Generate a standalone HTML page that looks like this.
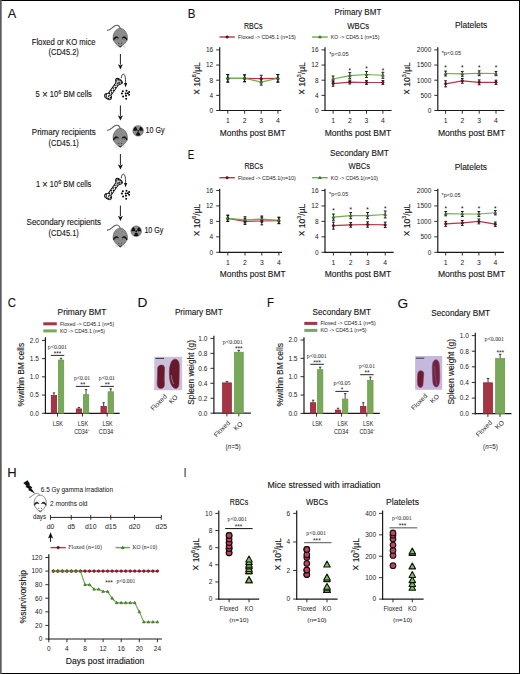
<!DOCTYPE html>
<html><head><meta charset="utf-8"><style>
html,body{margin:0;padding:0;background:#fff;}
svg{display:block;font-family:"Liberation Sans", sans-serif;}
text{stroke:none;}
text.b{stroke:#222;stroke-width:0.12px;}
</style></head><body>
<svg width="520" height="674" viewBox="0 0 520 674">
<rect x="0.00" y="0.00" width="520.00" height="674.00" fill="#fff" />
<rect x="0.00" y="0.00" width="520.00" height="1.00" fill="#000" />
<rect x="519.00" y="0.00" width="1.00" height="674.00" fill="#000" />
<rect x="0.00" y="673.00" width="520.00" height="1.00" fill="#000" />
<rect x="0.00" y="0.00" width="1.70" height="674.00" fill="#5c5c5c" />
<text class="b" x="7.70" y="17.70" font-size="11.87" textLength="8.50" lengthAdjust="spacingAndGlyphs" fill="#111" >A</text>
<text class="b" x="187.70" y="17.70" font-size="11.87" textLength="7.70" lengthAdjust="spacingAndGlyphs" fill="#111" >B</text>
<text class="b" x="187.70" y="158.50" font-size="12.15" textLength="6.50" lengthAdjust="spacingAndGlyphs" fill="#111" >E</text>
<text class="b" x="7.70" y="306.80" font-size="11.87" textLength="8.20" lengthAdjust="spacingAndGlyphs" fill="#111" >C</text>
<text class="b" x="137.40" y="307.00" font-size="12.29" textLength="9.90" lengthAdjust="spacingAndGlyphs" fill="#111" >D</text>
<text class="b" x="267.10" y="307.00" font-size="12.29" textLength="7.00" lengthAdjust="spacingAndGlyphs" fill="#111" >F</text>
<text class="b" x="397.60" y="307.80" font-size="12.29" textLength="10.60" lengthAdjust="spacingAndGlyphs" fill="#111" >G</text>
<text class="b" x="7.30" y="477.30" font-size="12.01" textLength="9.40" lengthAdjust="spacingAndGlyphs" fill="#111" >H</text>
<text class="b" x="183.80" y="477.30" font-size="13.13" textLength="2.60" lengthAdjust="spacingAndGlyphs" fill="#111" >I</text>
<text class="b" x="31.70" y="45.20" font-size="8.4" textLength="63.90" lengthAdjust="spacingAndGlyphs" fill="#111" >Floxed or KO mice</text>
<text class="b" x="48.50" y="54.90" font-size="8.4" textLength="30.30" lengthAdjust="spacingAndGlyphs" fill="#111" >(CD45.2)</text>
<text class="b" x="35.60" y="96.90" font-size="8.4" textLength="56.30" lengthAdjust="spacingAndGlyphs" fill="#111" >5 <tspan font-size="11" dy="0.9">×</tspan><tspan dy="-0.9"> 10</tspan><tspan font-size="6.2" dy="-3.3">6</tspan><tspan dy="3.3"> BM cells</tspan></text>
<text class="b" x="31.80" y="134.70" font-size="8.4" textLength="64.00" lengthAdjust="spacingAndGlyphs" fill="#111" >Primary recipients</text>
<text class="b" x="48.60" y="145.60" font-size="8.4" textLength="30.20" lengthAdjust="spacingAndGlyphs" fill="#111" >(CD45.1)</text>
<text class="b" x="35.90" y="186.80" font-size="8.4" textLength="55.40" lengthAdjust="spacingAndGlyphs" fill="#111" >1 <tspan font-size="11" dy="0.9">×</tspan><tspan dy="-0.9"> 10</tspan><tspan font-size="6.2" dy="-3.3">6</tspan><tspan dy="3.3"> BM cells</tspan></text>
<text class="b" x="26.60" y="225.00" font-size="8.4" textLength="74.40" lengthAdjust="spacingAndGlyphs" fill="#111" >Secondary recipients</text>
<text class="b" x="48.60" y="235.50" font-size="8.4" textLength="30.20" lengthAdjust="spacingAndGlyphs" fill="#111" >(CD45.1)</text>
<g transform="translate(0,0)">
<path d="M107.4 30.3 C109.8 30.6 112.3 27.2 115.0 25.7 C117.3 24.5 119.3 25.6 120.4 28.6" fill="none" stroke="#5a5a5a" stroke-width="1.1" stroke-linecap="round"/>
<path d="M120.2 28.4 C124.4 28.4 127.4 33.0 127.4 37.8 C127.4 41.8 123.6 44.8 120.2 47.4 C116.8 44.8 113.1 41.8 113.1 37.8 C113.1 33.0 116.0 28.4 120.2 28.4 Z" fill="#8c8c8c" stroke="#484848" stroke-width="0.6" />
<path d="M113.5 40.2 C113.4 37.0 116.8 35.4 118.6 38.2 C117.0 37.2 114.8 37.8 113.5 40.2 Z" fill="#111" stroke="#111" stroke-width="0.7" />
<path d="M127.0 40.2 C127.1 37.0 123.7 35.4 121.9 38.2 C123.5 37.2 125.7 37.8 127.0 40.2 Z" fill="#111" stroke="#111" stroke-width="0.7" />
<path d="M115.2 40.2 C116.5 38.8 118.8 39.0 119.6 40.6 M125.3 40.2 C124.0 38.8 121.7 39.0 120.9 40.6" fill="none" stroke="#707070" stroke-width="0.5" />
<circle cx="118.80" cy="43.40" r="0.55" fill="#3a3a3a" stroke="none" stroke-width="0.5"/>
<circle cx="121.60" cy="43.40" r="0.55" fill="#3a3a3a" stroke="none" stroke-width="0.5"/>
<path d="M118.6 45.8 Q120.2 47.6 121.8 45.8" fill="none" stroke="#222" stroke-width="0.9" />
<path d="M115.0 45.2 L117.6 46.4 M115.2 47.4 L117.6 46.8 M125.4 45.2 L122.8 46.4 M125.2 47.4 L122.8 46.8" fill="none" stroke="#c8c8c8" stroke-width="0.6" />
</g>
<g transform="translate(0,100)">
<path d="M107.4 30.3 C109.8 30.6 112.3 27.2 115.0 25.7 C117.3 24.5 119.3 25.6 120.4 28.6" fill="none" stroke="#5a5a5a" stroke-width="1.1" stroke-linecap="round"/>
<path d="M120.2 28.4 C124.4 28.4 127.4 33.0 127.4 37.8 C127.4 41.8 123.6 44.8 120.2 47.4 C116.8 44.8 113.1 41.8 113.1 37.8 C113.1 33.0 116.0 28.4 120.2 28.4 Z" fill="#8c8c8c" stroke="#484848" stroke-width="0.6" />
<path d="M113.5 40.2 C113.4 37.0 116.8 35.4 118.6 38.2 C117.0 37.2 114.8 37.8 113.5 40.2 Z" fill="#111" stroke="#111" stroke-width="0.7" />
<path d="M127.0 40.2 C127.1 37.0 123.7 35.4 121.9 38.2 C123.5 37.2 125.7 37.8 127.0 40.2 Z" fill="#111" stroke="#111" stroke-width="0.7" />
<path d="M115.2 40.2 C116.5 38.8 118.8 39.0 119.6 40.6 M125.3 40.2 C124.0 38.8 121.7 39.0 120.9 40.6" fill="none" stroke="#707070" stroke-width="0.5" />
<circle cx="118.80" cy="43.40" r="0.55" fill="#3a3a3a" stroke="none" stroke-width="0.5"/>
<circle cx="121.60" cy="43.40" r="0.55" fill="#3a3a3a" stroke="none" stroke-width="0.5"/>
<path d="M118.6 45.8 Q120.2 47.6 121.8 45.8" fill="none" stroke="#222" stroke-width="0.9" />
<path d="M115.0 45.2 L117.6 46.4 M115.2 47.4 L117.6 46.8 M125.4 45.2 L122.8 46.4 M125.2 47.4 L122.8 46.8" fill="none" stroke="#c8c8c8" stroke-width="0.6" />
</g>
<g transform="translate(0,199.8)">
<path d="M107.4 30.3 C109.8 30.6 112.3 27.2 115.0 25.7 C117.3 24.5 119.3 25.6 120.4 28.6" fill="none" stroke="#5a5a5a" stroke-width="1.1" stroke-linecap="round"/>
<path d="M120.2 28.4 C124.4 28.4 127.4 33.0 127.4 37.8 C127.4 41.8 123.6 44.8 120.2 47.4 C116.8 44.8 113.1 41.8 113.1 37.8 C113.1 33.0 116.0 28.4 120.2 28.4 Z" fill="#8c8c8c" stroke="#484848" stroke-width="0.6" />
<path d="M113.5 40.2 C113.4 37.0 116.8 35.4 118.6 38.2 C117.0 37.2 114.8 37.8 113.5 40.2 Z" fill="#111" stroke="#111" stroke-width="0.7" />
<path d="M127.0 40.2 C127.1 37.0 123.7 35.4 121.9 38.2 C123.5 37.2 125.7 37.8 127.0 40.2 Z" fill="#111" stroke="#111" stroke-width="0.7" />
<path d="M115.2 40.2 C116.5 38.8 118.8 39.0 119.6 40.6 M125.3 40.2 C124.0 38.8 121.7 39.0 120.9 40.6" fill="none" stroke="#707070" stroke-width="0.5" />
<circle cx="118.80" cy="43.40" r="0.55" fill="#3a3a3a" stroke="none" stroke-width="0.5"/>
<circle cx="121.60" cy="43.40" r="0.55" fill="#3a3a3a" stroke="none" stroke-width="0.5"/>
<path d="M118.6 45.8 Q120.2 47.6 121.8 45.8" fill="none" stroke="#222" stroke-width="0.9" />
<path d="M115.0 45.2 L117.6 46.4 M115.2 47.4 L117.6 46.8 M125.4 45.2 L122.8 46.4 M125.2 47.4 L122.8 46.8" fill="none" stroke="#c8c8c8" stroke-width="0.6" />
</g>
<line x1="120.40" y1="54.00" x2="120.40" y2="64.70" stroke="#111" stroke-width="0.95" />
<path d="M117.90 64.20 L120.40 65.40 L122.90 64.20 L120.40 69.40 Z" fill="#111" stroke="none" stroke-width="1" />
<line x1="120.40" y1="105.40" x2="120.40" y2="115.90" stroke="#111" stroke-width="0.95" />
<path d="M117.90 115.40 L120.40 116.60 L122.90 115.40 L120.40 120.60 Z" fill="#111" stroke="none" stroke-width="1" />
<line x1="120.40" y1="154.00" x2="120.40" y2="164.90" stroke="#111" stroke-width="0.95" />
<path d="M117.90 164.40 L120.40 165.60 L122.90 164.40 L120.40 169.60 Z" fill="#111" stroke="none" stroke-width="1" />
<line x1="120.40" y1="205.60" x2="120.40" y2="216.20" stroke="#111" stroke-width="0.95" />
<path d="M117.90 215.70 L120.40 216.90 L122.90 215.70 L120.40 220.90 Z" fill="#111" stroke="none" stroke-width="1" />
<g transform="translate(0,0)">
<g transform="translate(113.9,88.4) rotate(-54.6)">
<path d="M-7.6 -1.7 L5.6 -1.7 C6.6 -2.2 7.4 -3.8 9.0 -3.8 C11.4 -3.8 11.6 3.8 9.0 3.8 C7.4 3.8 6.6 2.2 5.6 1.7 L-7.6 1.7 C-8.0 3.6 -10.0 4.3 -11.4 3.4 C-12.6 2.6 -12.6 0.4 -12.0 0 C-12.6 -0.4 -12.6 -2.6 -11.4 -3.4 C-10.0 -4.3 -8.0 -3.6 -7.6 -1.7 Z" fill="#fff" stroke="#111" stroke-width="0.95" />
<circle cx="-10.80" cy="-1.80" r="0.78" fill="#111" stroke="none" stroke-width="0.5"/>
<circle cx="-11.20" cy="1.60" r="0.78" fill="#111" stroke="none" stroke-width="0.5"/>
<circle cx="-9.30" cy="0.20" r="0.78" fill="#111" stroke="none" stroke-width="0.5"/>
<circle cx="-9.60" cy="-2.60" r="0.78" fill="#111" stroke="none" stroke-width="0.5"/>
<circle cx="-9.40" cy="2.60" r="0.78" fill="#111" stroke="none" stroke-width="0.5"/>
<circle cx="-6.60" cy="-0.70" r="0.78" fill="#111" stroke="none" stroke-width="0.5"/>
<circle cx="-5.00" cy="0.70" r="0.78" fill="#111" stroke="none" stroke-width="0.5"/>
<circle cx="-3.40" cy="-0.70" r="0.78" fill="#111" stroke="none" stroke-width="0.5"/>
<circle cx="-1.80" cy="0.70" r="0.78" fill="#111" stroke="none" stroke-width="0.5"/>
<circle cx="-0.20" cy="-0.70" r="0.78" fill="#111" stroke="none" stroke-width="0.5"/>
<circle cx="1.40" cy="0.70" r="0.78" fill="#111" stroke="none" stroke-width="0.5"/>
<circle cx="3.00" cy="-0.70" r="0.78" fill="#111" stroke="none" stroke-width="0.5"/>
<circle cx="4.60" cy="0.70" r="0.78" fill="#111" stroke="none" stroke-width="0.5"/>
<circle cx="6.20" cy="-0.30" r="0.78" fill="#111" stroke="none" stroke-width="0.5"/>
<circle cx="7.80" cy="-2.00" r="0.78" fill="#111" stroke="none" stroke-width="0.5"/>
<circle cx="8.00" cy="1.60" r="0.78" fill="#111" stroke="none" stroke-width="0.5"/>
<circle cx="9.20" cy="-0.20" r="0.78" fill="#111" stroke="none" stroke-width="0.5"/>
<circle cx="9.60" cy="2.60" r="0.78" fill="#111" stroke="none" stroke-width="0.5"/>
<circle cx="9.40" cy="-2.80" r="0.78" fill="#111" stroke="none" stroke-width="0.5"/>
<circle cx="7.20" cy="0.80" r="0.78" fill="#111" stroke="none" stroke-width="0.5"/>
<circle cx="-7.80" cy="0.60" r="0.78" fill="#111" stroke="none" stroke-width="0.5"/>
<circle cx="-12.00" cy="-0.20" r="0.78" fill="#111" stroke="none" stroke-width="0.5"/>
<circle cx="10.40" cy="1.20" r="0.78" fill="#111" stroke="none" stroke-width="0.5"/>
<circle cx="10.20" cy="-1.40" r="0.78" fill="#111" stroke="none" stroke-width="0.5"/>
</g>
<path d="M121.3 78.2 C121.4 75.0 122.5 74.2 123.5 74.2 C124.9 74.2 125.6 77.2 125.6 83.4" fill="none" stroke="#111" stroke-width="0.8" />
<path d="M124.0 83.0 L127.2 83.0 L125.6 87.4 Z" fill="#111" stroke="none" stroke-width="1" />
<circle cx="122.80" cy="91.30" r="1.00" fill="#000" stroke="none" stroke-width="0.5"/>
<circle cx="126.50" cy="90.80" r="1.00" fill="#000" stroke="none" stroke-width="0.5"/>
<circle cx="129.10" cy="91.90" r="1.00" fill="#000" stroke="none" stroke-width="0.5"/>
<circle cx="121.90" cy="93.60" r="1.00" fill="#000" stroke="none" stroke-width="0.5"/>
<circle cx="125.70" cy="93.40" r="1.00" fill="#000" stroke="none" stroke-width="0.5"/>
<circle cx="129.10" cy="94.80" r="1.00" fill="#000" stroke="none" stroke-width="0.5"/>
<circle cx="123.10" cy="96.50" r="1.00" fill="#000" stroke="none" stroke-width="0.5"/>
<circle cx="126.00" cy="95.70" r="1.00" fill="#000" stroke="none" stroke-width="0.5"/>
<circle cx="126.20" cy="98.70" r="1.00" fill="#000" stroke="none" stroke-width="0.5"/>
<circle cx="127.80" cy="93.20" r="1.00" fill="#000" stroke="none" stroke-width="0.5"/>
</g>
<g transform="translate(0,100)">
<g transform="translate(113.9,88.4) rotate(-54.6)">
<path d="M-7.6 -1.7 L5.6 -1.7 C6.6 -2.2 7.4 -3.8 9.0 -3.8 C11.4 -3.8 11.6 3.8 9.0 3.8 C7.4 3.8 6.6 2.2 5.6 1.7 L-7.6 1.7 C-8.0 3.6 -10.0 4.3 -11.4 3.4 C-12.6 2.6 -12.6 0.4 -12.0 0 C-12.6 -0.4 -12.6 -2.6 -11.4 -3.4 C-10.0 -4.3 -8.0 -3.6 -7.6 -1.7 Z" fill="#fff" stroke="#111" stroke-width="0.95" />
<circle cx="-10.80" cy="-1.80" r="0.78" fill="#111" stroke="none" stroke-width="0.5"/>
<circle cx="-11.20" cy="1.60" r="0.78" fill="#111" stroke="none" stroke-width="0.5"/>
<circle cx="-9.30" cy="0.20" r="0.78" fill="#111" stroke="none" stroke-width="0.5"/>
<circle cx="-9.60" cy="-2.60" r="0.78" fill="#111" stroke="none" stroke-width="0.5"/>
<circle cx="-9.40" cy="2.60" r="0.78" fill="#111" stroke="none" stroke-width="0.5"/>
<circle cx="-6.60" cy="-0.70" r="0.78" fill="#111" stroke="none" stroke-width="0.5"/>
<circle cx="-5.00" cy="0.70" r="0.78" fill="#111" stroke="none" stroke-width="0.5"/>
<circle cx="-3.40" cy="-0.70" r="0.78" fill="#111" stroke="none" stroke-width="0.5"/>
<circle cx="-1.80" cy="0.70" r="0.78" fill="#111" stroke="none" stroke-width="0.5"/>
<circle cx="-0.20" cy="-0.70" r="0.78" fill="#111" stroke="none" stroke-width="0.5"/>
<circle cx="1.40" cy="0.70" r="0.78" fill="#111" stroke="none" stroke-width="0.5"/>
<circle cx="3.00" cy="-0.70" r="0.78" fill="#111" stroke="none" stroke-width="0.5"/>
<circle cx="4.60" cy="0.70" r="0.78" fill="#111" stroke="none" stroke-width="0.5"/>
<circle cx="6.20" cy="-0.30" r="0.78" fill="#111" stroke="none" stroke-width="0.5"/>
<circle cx="7.80" cy="-2.00" r="0.78" fill="#111" stroke="none" stroke-width="0.5"/>
<circle cx="8.00" cy="1.60" r="0.78" fill="#111" stroke="none" stroke-width="0.5"/>
<circle cx="9.20" cy="-0.20" r="0.78" fill="#111" stroke="none" stroke-width="0.5"/>
<circle cx="9.60" cy="2.60" r="0.78" fill="#111" stroke="none" stroke-width="0.5"/>
<circle cx="9.40" cy="-2.80" r="0.78" fill="#111" stroke="none" stroke-width="0.5"/>
<circle cx="7.20" cy="0.80" r="0.78" fill="#111" stroke="none" stroke-width="0.5"/>
<circle cx="-7.80" cy="0.60" r="0.78" fill="#111" stroke="none" stroke-width="0.5"/>
<circle cx="-12.00" cy="-0.20" r="0.78" fill="#111" stroke="none" stroke-width="0.5"/>
<circle cx="10.40" cy="1.20" r="0.78" fill="#111" stroke="none" stroke-width="0.5"/>
<circle cx="10.20" cy="-1.40" r="0.78" fill="#111" stroke="none" stroke-width="0.5"/>
</g>
<path d="M121.3 78.2 C121.4 75.0 122.5 74.2 123.5 74.2 C124.9 74.2 125.6 77.2 125.6 83.4" fill="none" stroke="#111" stroke-width="0.8" />
<path d="M124.0 83.0 L127.2 83.0 L125.6 87.4 Z" fill="#111" stroke="none" stroke-width="1" />
<circle cx="122.80" cy="91.30" r="1.00" fill="#000" stroke="none" stroke-width="0.5"/>
<circle cx="126.50" cy="90.80" r="1.00" fill="#000" stroke="none" stroke-width="0.5"/>
<circle cx="129.10" cy="91.90" r="1.00" fill="#000" stroke="none" stroke-width="0.5"/>
<circle cx="121.90" cy="93.60" r="1.00" fill="#000" stroke="none" stroke-width="0.5"/>
<circle cx="125.70" cy="93.40" r="1.00" fill="#000" stroke="none" stroke-width="0.5"/>
<circle cx="129.10" cy="94.80" r="1.00" fill="#000" stroke="none" stroke-width="0.5"/>
<circle cx="123.10" cy="96.50" r="1.00" fill="#000" stroke="none" stroke-width="0.5"/>
<circle cx="126.00" cy="95.70" r="1.00" fill="#000" stroke="none" stroke-width="0.5"/>
<circle cx="126.20" cy="98.70" r="1.00" fill="#000" stroke="none" stroke-width="0.5"/>
<circle cx="127.80" cy="93.20" r="1.00" fill="#000" stroke="none" stroke-width="0.5"/>
</g>
<circle cx="138.15" cy="130.80" r="5.40" fill="#8a8a8a" stroke="#555" stroke-width="0.4"/>
<path d="M138.90 129.50 L140.60 126.56 A4.9 4.9 0 0 1 143.05 130.80 L139.65 130.80 A1.5 1.5 0 0 0 138.90 129.50 Z" fill="#111" stroke="none" stroke-width="1" />
<path d="M138.90 132.10 L140.60 135.04 A4.9 4.9 0 0 1 135.70 135.04 L137.40 132.10 A1.5 1.5 0 0 0 138.90 132.10 Z" fill="#111" stroke="none" stroke-width="1" />
<path d="M136.65 130.80 L133.25 130.80 A4.9 4.9 0 0 1 135.70 126.56 L137.40 129.50 A1.5 1.5 0 0 0 136.65 130.80 Z" fill="#111" stroke="none" stroke-width="1" />
<circle cx="138.15" cy="130.80" r="0.90" fill="#111" stroke="none" stroke-width="0.5"/>
<circle cx="136.20" cy="231.20" r="5.40" fill="#8a8a8a" stroke="#555" stroke-width="0.4"/>
<path d="M136.95 229.90 L138.65 226.96 A4.9 4.9 0 0 1 141.10 231.20 L137.70 231.20 A1.5 1.5 0 0 0 136.95 229.90 Z" fill="#111" stroke="none" stroke-width="1" />
<path d="M136.95 232.50 L138.65 235.44 A4.9 4.9 0 0 1 133.75 235.44 L135.45 232.50 A1.5 1.5 0 0 0 136.95 232.50 Z" fill="#111" stroke="none" stroke-width="1" />
<path d="M134.70 231.20 L131.30 231.20 A4.9 4.9 0 0 1 133.75 226.96 L135.45 229.90 A1.5 1.5 0 0 0 134.70 231.20 Z" fill="#111" stroke="none" stroke-width="1" />
<circle cx="136.20" cy="231.20" r="0.90" fill="#111" stroke="none" stroke-width="0.5"/>
<text class="b" x="145.60" y="132.60" font-size="8.4" textLength="19.00" lengthAdjust="spacingAndGlyphs" fill="#111" >10 Gy</text>
<text class="b" x="144.40" y="233.00" font-size="8.4" textLength="19.00" lengthAdjust="spacingAndGlyphs" fill="#111" >10 Gy</text>
<text class="b" x="334.40" y="15.30" font-size="9.4" textLength="46.90" lengthAdjust="spacingAndGlyphs" fill="#111" >Primary BMT</text>
<text class="b" x="244.00" y="28.60" font-size="9.4" textLength="18.50" lengthAdjust="spacingAndGlyphs" fill="#111" >RBCs</text>
<text class="b" x="347.30" y="28.60" font-size="9.4" textLength="21.90" lengthAdjust="spacingAndGlyphs" fill="#111" >WBCs</text>
<text class="b" x="455.00" y="27.70" font-size="9.4" textLength="32.30" lengthAdjust="spacingAndGlyphs" fill="#111" >Platelets</text>
<line x1="219.40" y1="37.00" x2="234.80" y2="37.00" stroke="#b8344c" stroke-width="1.4" />
<circle cx="227.10" cy="37.00" r="1.30" fill="#7a1020" stroke="#300" stroke-width="0.4"/>
<text x="238.10" y="38.80" font-size="5.0" textLength="57.70" lengthAdjust="spacingAndGlyphs" fill="#222" >Floxed -&gt; CD45.1 (n=15)</text>
<line x1="312.10" y1="37.00" x2="327.80" y2="37.00" stroke="#6cae48" stroke-width="1.4" />
<path d="M319.95 35.44 L321.45 38.04 L318.45 38.04 Z" fill="#4e8a2e" stroke="#1d3a10" stroke-width="0.4" stroke-linejoin="round"/>
<text x="330.80" y="38.80" font-size="5.0" textLength="48.60" lengthAdjust="spacingAndGlyphs" fill="#222" >KO -&gt; CD45.1 (n=15)</text>
<line x1="219.70" y1="47.30" x2="219.70" y2="111.10" stroke="#1a1a1a" stroke-width="1.2" />
<line x1="219.10" y1="110.50" x2="281.40" y2="110.50" stroke="#1a1a1a" stroke-width="1.2" />
<line x1="216.20" y1="110.50" x2="219.70" y2="110.50" stroke="#1a1a1a" stroke-width="0.9" />
<text x="213.20" y="112.84" font-size="6.5" text-anchor="end" fill="#222" >0</text>
<line x1="216.20" y1="95.35" x2="219.70" y2="95.35" stroke="#1a1a1a" stroke-width="0.9" />
<text x="213.20" y="97.69" font-size="6.5" text-anchor="end" fill="#222" >4</text>
<line x1="216.20" y1="80.20" x2="219.70" y2="80.20" stroke="#1a1a1a" stroke-width="0.9" />
<text x="213.20" y="82.54" font-size="6.5" text-anchor="end" fill="#222" >8</text>
<line x1="216.20" y1="65.05" x2="219.70" y2="65.05" stroke="#1a1a1a" stroke-width="0.9" />
<text x="213.20" y="67.39" font-size="6.5" text-anchor="end" fill="#222" >12</text>
<line x1="216.20" y1="49.90" x2="219.70" y2="49.90" stroke="#1a1a1a" stroke-width="0.9" />
<text x="213.20" y="52.24" font-size="6.5" text-anchor="end" fill="#222" >16</text>
<line x1="227.80" y1="110.50" x2="227.80" y2="113.70" stroke="#1a1a1a" stroke-width="0.9" />
<line x1="244.60" y1="110.50" x2="244.60" y2="113.70" stroke="#1a1a1a" stroke-width="0.9" />
<line x1="261.20" y1="110.50" x2="261.20" y2="113.70" stroke="#1a1a1a" stroke-width="0.9" />
<line x1="277.90" y1="110.50" x2="277.90" y2="113.70" stroke="#1a1a1a" stroke-width="0.9" />
<text x="227.80" y="122.90" font-size="6.8" text-anchor="middle" fill="#222" >1</text>
<text x="244.60" y="122.90" font-size="6.8" text-anchor="middle" fill="#222" >2</text>
<text x="261.20" y="122.90" font-size="6.8" text-anchor="middle" fill="#222" >3</text>
<text x="277.90" y="122.90" font-size="6.8" text-anchor="middle" fill="#222" >4</text>
<line x1="227.80" y1="74.52" x2="227.80" y2="82.09" stroke="#111" stroke-width="0.95" />
<line x1="226.40" y1="74.52" x2="229.20" y2="74.52" stroke="#111" stroke-width="0.95" />
<line x1="226.40" y1="82.09" x2="229.20" y2="82.09" stroke="#111" stroke-width="0.95" />
<line x1="227.80" y1="74.52" x2="227.80" y2="82.09" stroke="#111" stroke-width="0.95" />
<line x1="226.40" y1="74.52" x2="229.20" y2="74.52" stroke="#111" stroke-width="0.95" />
<line x1="226.40" y1="82.09" x2="229.20" y2="82.09" stroke="#111" stroke-width="0.95" />
<line x1="244.60" y1="74.90" x2="244.60" y2="81.72" stroke="#111" stroke-width="0.95" />
<line x1="243.20" y1="74.90" x2="246.00" y2="74.90" stroke="#111" stroke-width="0.95" />
<line x1="243.20" y1="81.72" x2="246.00" y2="81.72" stroke="#111" stroke-width="0.95" />
<line x1="244.60" y1="74.90" x2="244.60" y2="81.72" stroke="#111" stroke-width="0.95" />
<line x1="243.20" y1="74.90" x2="246.00" y2="74.90" stroke="#111" stroke-width="0.95" />
<line x1="243.20" y1="81.72" x2="246.00" y2="81.72" stroke="#111" stroke-width="0.95" />
<line x1="261.20" y1="75.28" x2="261.20" y2="82.09" stroke="#111" stroke-width="0.95" />
<line x1="259.80" y1="75.28" x2="262.60" y2="75.28" stroke="#111" stroke-width="0.95" />
<line x1="259.80" y1="82.09" x2="262.60" y2="82.09" stroke="#111" stroke-width="0.95" />
<line x1="261.20" y1="79.06" x2="261.20" y2="85.12" stroke="#111" stroke-width="0.95" />
<line x1="259.80" y1="79.06" x2="262.60" y2="79.06" stroke="#111" stroke-width="0.95" />
<line x1="259.80" y1="85.12" x2="262.60" y2="85.12" stroke="#111" stroke-width="0.95" />
<line x1="277.90" y1="74.52" x2="277.90" y2="82.09" stroke="#111" stroke-width="0.95" />
<line x1="276.50" y1="74.52" x2="279.30" y2="74.52" stroke="#111" stroke-width="0.95" />
<line x1="276.50" y1="82.09" x2="279.30" y2="82.09" stroke="#111" stroke-width="0.95" />
<line x1="277.90" y1="74.52" x2="277.90" y2="82.09" stroke="#111" stroke-width="0.95" />
<line x1="276.50" y1="74.52" x2="279.30" y2="74.52" stroke="#111" stroke-width="0.95" />
<line x1="276.50" y1="82.09" x2="279.30" y2="82.09" stroke="#111" stroke-width="0.95" />
<polyline points="227.80,78.31 244.60,78.31 261.20,78.69 277.90,78.31" fill="none" stroke="#b8344c" stroke-width="1.15"/>
<polyline points="227.80,78.31 244.60,78.31 261.20,82.09 277.90,78.31" fill="none" stroke="#6cae48" stroke-width="1.15"/>
<circle cx="227.80" cy="78.31" r="1.25" fill="#7a1020" stroke="#300" stroke-width="0.4"/>
<circle cx="244.60" cy="78.31" r="1.25" fill="#7a1020" stroke="#300" stroke-width="0.4"/>
<circle cx="261.20" cy="78.69" r="1.25" fill="#7a1020" stroke="#300" stroke-width="0.4"/>
<circle cx="277.90" cy="78.31" r="1.25" fill="#7a1020" stroke="#300" stroke-width="0.4"/>
<path d="M227.80 76.75 L229.30 79.35 L226.30 79.35 Z" fill="#4e8a2e" stroke="#1d3a10" stroke-width="0.4" stroke-linejoin="round"/>
<path d="M244.60 76.75 L246.10 79.35 L243.10 79.35 Z" fill="#4e8a2e" stroke="#1d3a10" stroke-width="0.4" stroke-linejoin="round"/>
<path d="M261.20 80.53 L262.70 83.13 L259.70 83.13 Z" fill="#4e8a2e" stroke="#1d3a10" stroke-width="0.4" stroke-linejoin="round"/>
<path d="M277.90 76.75 L279.40 79.35 L276.40 79.35 Z" fill="#4e8a2e" stroke="#1d3a10" stroke-width="0.4" stroke-linejoin="round"/>
<line x1="325.00" y1="47.30" x2="325.00" y2="111.10" stroke="#1a1a1a" stroke-width="1.2" />
<line x1="324.40" y1="110.50" x2="391.60" y2="110.50" stroke="#1a1a1a" stroke-width="1.2" />
<line x1="321.50" y1="110.50" x2="325.00" y2="110.50" stroke="#1a1a1a" stroke-width="0.9" />
<text x="318.50" y="112.84" font-size="6.5" text-anchor="end" fill="#222" >0</text>
<line x1="321.50" y1="95.35" x2="325.00" y2="95.35" stroke="#1a1a1a" stroke-width="0.9" />
<text x="318.50" y="97.69" font-size="6.5" text-anchor="end" fill="#222" >4</text>
<line x1="321.50" y1="80.20" x2="325.00" y2="80.20" stroke="#1a1a1a" stroke-width="0.9" />
<text x="318.50" y="82.54" font-size="6.5" text-anchor="end" fill="#222" >8</text>
<line x1="321.50" y1="65.05" x2="325.00" y2="65.05" stroke="#1a1a1a" stroke-width="0.9" />
<text x="318.50" y="67.39" font-size="6.5" text-anchor="end" fill="#222" >12</text>
<line x1="321.50" y1="49.90" x2="325.00" y2="49.90" stroke="#1a1a1a" stroke-width="0.9" />
<text x="318.50" y="52.24" font-size="6.5" text-anchor="end" fill="#222" >16</text>
<line x1="333.10" y1="110.50" x2="333.10" y2="113.70" stroke="#1a1a1a" stroke-width="0.9" />
<line x1="349.80" y1="110.50" x2="349.80" y2="113.70" stroke="#1a1a1a" stroke-width="0.9" />
<line x1="366.50" y1="110.50" x2="366.50" y2="113.70" stroke="#1a1a1a" stroke-width="0.9" />
<line x1="382.90" y1="110.50" x2="382.90" y2="113.70" stroke="#1a1a1a" stroke-width="0.9" />
<text x="333.10" y="122.90" font-size="6.8" text-anchor="middle" fill="#222" >1</text>
<text x="349.80" y="122.90" font-size="6.8" text-anchor="middle" fill="#222" >2</text>
<text x="366.50" y="122.90" font-size="6.8" text-anchor="middle" fill="#222" >3</text>
<text x="382.90" y="122.90" font-size="6.8" text-anchor="middle" fill="#222" >4</text>
<line x1="333.10" y1="80.96" x2="333.10" y2="86.26" stroke="#111" stroke-width="0.95" />
<line x1="331.70" y1="80.96" x2="334.50" y2="80.96" stroke="#111" stroke-width="0.95" />
<line x1="331.70" y1="86.26" x2="334.50" y2="86.26" stroke="#111" stroke-width="0.95" />
<line x1="333.10" y1="76.03" x2="333.10" y2="82.09" stroke="#111" stroke-width="0.95" />
<line x1="331.70" y1="76.03" x2="334.50" y2="76.03" stroke="#111" stroke-width="0.95" />
<line x1="331.70" y1="82.09" x2="334.50" y2="82.09" stroke="#111" stroke-width="0.95" />
<line x1="349.80" y1="80.20" x2="349.80" y2="83.99" stroke="#111" stroke-width="0.95" />
<line x1="348.40" y1="80.20" x2="351.20" y2="80.20" stroke="#111" stroke-width="0.95" />
<line x1="348.40" y1="83.99" x2="351.20" y2="83.99" stroke="#111" stroke-width="0.95" />
<line x1="349.80" y1="72.62" x2="349.80" y2="78.69" stroke="#111" stroke-width="0.95" />
<line x1="348.40" y1="72.62" x2="351.20" y2="72.62" stroke="#111" stroke-width="0.95" />
<line x1="348.40" y1="78.69" x2="351.20" y2="78.69" stroke="#111" stroke-width="0.95" />
<line x1="366.50" y1="80.58" x2="366.50" y2="84.37" stroke="#111" stroke-width="0.95" />
<line x1="365.10" y1="80.58" x2="367.90" y2="80.58" stroke="#111" stroke-width="0.95" />
<line x1="365.10" y1="84.37" x2="367.90" y2="84.37" stroke="#111" stroke-width="0.95" />
<line x1="366.50" y1="71.49" x2="366.50" y2="77.55" stroke="#111" stroke-width="0.95" />
<line x1="365.10" y1="71.49" x2="367.90" y2="71.49" stroke="#111" stroke-width="0.95" />
<line x1="365.10" y1="77.55" x2="367.90" y2="77.55" stroke="#111" stroke-width="0.95" />
<line x1="382.90" y1="80.58" x2="382.90" y2="84.37" stroke="#111" stroke-width="0.95" />
<line x1="381.50" y1="80.58" x2="384.30" y2="80.58" stroke="#111" stroke-width="0.95" />
<line x1="381.50" y1="84.37" x2="384.30" y2="84.37" stroke="#111" stroke-width="0.95" />
<line x1="382.90" y1="72.25" x2="382.90" y2="78.31" stroke="#111" stroke-width="0.95" />
<line x1="381.50" y1="72.25" x2="384.30" y2="72.25" stroke="#111" stroke-width="0.95" />
<line x1="381.50" y1="78.31" x2="384.30" y2="78.31" stroke="#111" stroke-width="0.95" />
<polyline points="333.10,83.61 349.80,82.09 366.50,82.47 382.90,82.47" fill="none" stroke="#b8344c" stroke-width="1.15"/>
<polyline points="333.10,79.06 349.80,75.66 366.50,74.52 382.90,75.28" fill="none" stroke="#6cae48" stroke-width="1.15"/>
<circle cx="333.10" cy="83.61" r="1.25" fill="#7a1020" stroke="#300" stroke-width="0.4"/>
<circle cx="349.80" cy="82.09" r="1.25" fill="#7a1020" stroke="#300" stroke-width="0.4"/>
<circle cx="366.50" cy="82.47" r="1.25" fill="#7a1020" stroke="#300" stroke-width="0.4"/>
<circle cx="382.90" cy="82.47" r="1.25" fill="#7a1020" stroke="#300" stroke-width="0.4"/>
<path d="M333.10 77.50 L334.60 80.10 L331.60 80.10 Z" fill="#4e8a2e" stroke="#1d3a10" stroke-width="0.4" stroke-linejoin="round"/>
<path d="M349.80 74.09 L351.30 76.70 L348.30 76.70 Z" fill="#4e8a2e" stroke="#1d3a10" stroke-width="0.4" stroke-linejoin="round"/>
<path d="M366.50 72.96 L368.00 75.56 L365.00 75.56 Z" fill="#4e8a2e" stroke="#1d3a10" stroke-width="0.4" stroke-linejoin="round"/>
<path d="M382.90 73.72 L384.40 76.32 L381.40 76.32 Z" fill="#4e8a2e" stroke="#1d3a10" stroke-width="0.4" stroke-linejoin="round"/>
<text x="349.80" y="73.10" font-size="6.4" text-anchor="middle" fill="#000" >*</text>
<text x="366.50" y="71.20" font-size="6.4" text-anchor="middle" fill="#000" >*</text>
<text x="382.90" y="72.50" font-size="6.4" text-anchor="middle" fill="#000" >*</text>
<line x1="437.80" y1="47.30" x2="437.80" y2="111.10" stroke="#1a1a1a" stroke-width="1.2" />
<line x1="437.20" y1="110.50" x2="504.30" y2="110.50" stroke="#1a1a1a" stroke-width="1.2" />
<line x1="434.30" y1="110.50" x2="437.80" y2="110.50" stroke="#1a1a1a" stroke-width="0.9" />
<text x="431.30" y="112.84" font-size="6.5" text-anchor="end" fill="#222" >0</text>
<line x1="434.30" y1="95.35" x2="437.80" y2="95.35" stroke="#1a1a1a" stroke-width="0.9" />
<text x="431.30" y="97.69" font-size="6.5" text-anchor="end" fill="#222" >500</text>
<line x1="434.30" y1="80.20" x2="437.80" y2="80.20" stroke="#1a1a1a" stroke-width="0.9" />
<text x="431.30" y="82.54" font-size="6.5" text-anchor="end" fill="#222" >1000</text>
<line x1="434.30" y1="65.05" x2="437.80" y2="65.05" stroke="#1a1a1a" stroke-width="0.9" />
<text x="431.30" y="67.39" font-size="6.5" text-anchor="end" fill="#222" >1500</text>
<line x1="434.30" y1="49.90" x2="437.80" y2="49.90" stroke="#1a1a1a" stroke-width="0.9" />
<text x="431.30" y="52.24" font-size="6.5" text-anchor="end" fill="#222" >2000</text>
<line x1="445.60" y1="110.50" x2="445.60" y2="113.70" stroke="#1a1a1a" stroke-width="0.9" />
<line x1="462.30" y1="110.50" x2="462.30" y2="113.70" stroke="#1a1a1a" stroke-width="0.9" />
<line x1="479.20" y1="110.50" x2="479.20" y2="113.70" stroke="#1a1a1a" stroke-width="0.9" />
<line x1="496.00" y1="110.50" x2="496.00" y2="113.70" stroke="#1a1a1a" stroke-width="0.9" />
<text x="445.60" y="122.90" font-size="6.8" text-anchor="middle" fill="#222" >1</text>
<text x="462.30" y="122.90" font-size="6.8" text-anchor="middle" fill="#222" >2</text>
<text x="479.20" y="122.90" font-size="6.8" text-anchor="middle" fill="#222" >3</text>
<text x="496.00" y="122.90" font-size="6.8" text-anchor="middle" fill="#222" >4</text>
<line x1="445.60" y1="80.81" x2="445.60" y2="86.87" stroke="#111" stroke-width="0.95" />
<line x1="444.20" y1="80.81" x2="447.00" y2="80.81" stroke="#111" stroke-width="0.95" />
<line x1="444.20" y1="86.87" x2="447.00" y2="86.87" stroke="#111" stroke-width="0.95" />
<line x1="445.60" y1="71.11" x2="445.60" y2="75.96" stroke="#111" stroke-width="0.95" />
<line x1="444.20" y1="71.11" x2="447.00" y2="71.11" stroke="#111" stroke-width="0.95" />
<line x1="444.20" y1="75.96" x2="447.00" y2="75.96" stroke="#111" stroke-width="0.95" />
<line x1="462.30" y1="78.38" x2="462.30" y2="83.23" stroke="#111" stroke-width="0.95" />
<line x1="460.90" y1="78.38" x2="463.70" y2="78.38" stroke="#111" stroke-width="0.95" />
<line x1="460.90" y1="83.23" x2="463.70" y2="83.23" stroke="#111" stroke-width="0.95" />
<line x1="462.30" y1="71.41" x2="462.30" y2="76.26" stroke="#111" stroke-width="0.95" />
<line x1="460.90" y1="71.41" x2="463.70" y2="71.41" stroke="#111" stroke-width="0.95" />
<line x1="460.90" y1="76.26" x2="463.70" y2="76.26" stroke="#111" stroke-width="0.95" />
<line x1="479.20" y1="79.90" x2="479.20" y2="84.75" stroke="#111" stroke-width="0.95" />
<line x1="477.80" y1="79.90" x2="480.60" y2="79.90" stroke="#111" stroke-width="0.95" />
<line x1="477.80" y1="84.75" x2="480.60" y2="84.75" stroke="#111" stroke-width="0.95" />
<line x1="479.20" y1="70.81" x2="479.20" y2="75.66" stroke="#111" stroke-width="0.95" />
<line x1="477.80" y1="70.81" x2="480.60" y2="70.81" stroke="#111" stroke-width="0.95" />
<line x1="477.80" y1="75.66" x2="480.60" y2="75.66" stroke="#111" stroke-width="0.95" />
<line x1="496.00" y1="80.20" x2="496.00" y2="84.44" stroke="#111" stroke-width="0.95" />
<line x1="494.60" y1="80.20" x2="497.40" y2="80.20" stroke="#111" stroke-width="0.95" />
<line x1="494.60" y1="84.44" x2="497.40" y2="84.44" stroke="#111" stroke-width="0.95" />
<line x1="496.00" y1="71.41" x2="496.00" y2="75.66" stroke="#111" stroke-width="0.95" />
<line x1="494.60" y1="71.41" x2="497.40" y2="71.41" stroke="#111" stroke-width="0.95" />
<line x1="494.60" y1="75.66" x2="497.40" y2="75.66" stroke="#111" stroke-width="0.95" />
<polyline points="445.60,83.84 462.30,80.81 479.20,82.32 496.00,82.32" fill="none" stroke="#b8344c" stroke-width="1.15"/>
<polyline points="445.60,73.53 462.30,73.84 479.20,73.23 496.00,73.53" fill="none" stroke="#6cae48" stroke-width="1.15"/>
<circle cx="445.60" cy="83.84" r="1.25" fill="#7a1020" stroke="#300" stroke-width="0.4"/>
<circle cx="462.30" cy="80.81" r="1.25" fill="#7a1020" stroke="#300" stroke-width="0.4"/>
<circle cx="479.20" cy="82.32" r="1.25" fill="#7a1020" stroke="#300" stroke-width="0.4"/>
<circle cx="496.00" cy="82.32" r="1.25" fill="#7a1020" stroke="#300" stroke-width="0.4"/>
<path d="M445.60 71.97 L447.10 74.57 L444.10 74.57 Z" fill="#4e8a2e" stroke="#1d3a10" stroke-width="0.4" stroke-linejoin="round"/>
<path d="M462.30 72.28 L463.80 74.88 L460.80 74.88 Z" fill="#4e8a2e" stroke="#1d3a10" stroke-width="0.4" stroke-linejoin="round"/>
<path d="M479.20 71.67 L480.70 74.27 L477.70 74.27 Z" fill="#4e8a2e" stroke="#1d3a10" stroke-width="0.4" stroke-linejoin="round"/>
<path d="M496.00 71.97 L497.50 74.57 L494.50 74.57 Z" fill="#4e8a2e" stroke="#1d3a10" stroke-width="0.4" stroke-linejoin="round"/>
<text x="445.60" y="70.20" font-size="6.4" text-anchor="middle" fill="#000" >*</text>
<text x="462.30" y="70.20" font-size="6.4" text-anchor="middle" fill="#000" >*</text>
<text x="479.20" y="70.20" font-size="6.4" text-anchor="middle" fill="#000" >*</text>
<text x="496.00" y="70.20" font-size="6.4" text-anchor="middle" fill="#000" >*</text>
<text x="329.20" y="55.50" font-size="5.0" textLength="19.30" lengthAdjust="spacingAndGlyphs" fill="#222" >*p&lt;0.05</text>
<text x="441.70" y="55.20" font-size="5.0" textLength="19.30" lengthAdjust="spacingAndGlyphs" fill="#222" >*p&lt;0.05</text>
<text class="b" x="219.80" y="135.80" font-size="9.1" textLength="65.80" lengthAdjust="spacingAndGlyphs" fill="#111" >Months post BMT</text>
<text class="b" x="324.80" y="135.80" font-size="9.1" textLength="66.40" lengthAdjust="spacingAndGlyphs" fill="#111" >Months post BMT</text>
<text class="b" x="437.90" y="135.80" font-size="9.1" textLength="67.30" lengthAdjust="spacingAndGlyphs" fill="#111" >Months post BMT</text>
<text class="b" transform="translate(199.70,78.60) rotate(-90)" text-anchor="middle" font-size="9.8" textLength="33.0" lengthAdjust="spacingAndGlyphs" fill="#111"><tspan font-size="11.96" dy="0.9">×</tspan><tspan dy="-0.9"> 10</tspan><tspan font-size="6.08" dy="-3.63">6</tspan><tspan dy="3.63">/µL</tspan></text>
<text class="b" transform="translate(305.00,78.60) rotate(-90)" text-anchor="middle" font-size="9.8" textLength="33.0" lengthAdjust="spacingAndGlyphs" fill="#111"><tspan font-size="11.96" dy="0.9">×</tspan><tspan dy="-0.9"> 10</tspan><tspan font-size="6.08" dy="-3.63">3</tspan><tspan dy="3.63">/µL</tspan></text>
<text class="b" transform="translate(409.80,78.60) rotate(-90)" text-anchor="middle" font-size="9.8" textLength="33.0" lengthAdjust="spacingAndGlyphs" fill="#111"><tspan font-size="11.96" dy="0.9">×</tspan><tspan dy="-0.9"> 10</tspan><tspan font-size="6.08" dy="-3.63">3</tspan><tspan dy="3.63">/µL</tspan></text>
<text class="b" x="330.00" y="156.20" font-size="9.4" textLength="58.80" lengthAdjust="spacingAndGlyphs" fill="#111" >Secondary BMT</text>
<text class="b" x="244.50" y="168.90" font-size="9.4" textLength="18.50" lengthAdjust="spacingAndGlyphs" fill="#111" >RBCs</text>
<text class="b" x="348.60" y="169.10" font-size="9.4" textLength="21.40" lengthAdjust="spacingAndGlyphs" fill="#111" >WBCs</text>
<text class="b" x="454.70" y="169.60" font-size="9.4" textLength="32.30" lengthAdjust="spacingAndGlyphs" fill="#111" >Platelets</text>
<line x1="219.40" y1="177.70" x2="234.80" y2="177.70" stroke="#b8344c" stroke-width="1.4" />
<circle cx="227.10" cy="177.70" r="1.30" fill="#7a1020" stroke="#300" stroke-width="0.4"/>
<text x="238.10" y="179.50" font-size="5.0" textLength="57.70" lengthAdjust="spacingAndGlyphs" fill="#222" >Floxed -&gt; CD45.1(n=10)</text>
<line x1="312.10" y1="177.70" x2="327.80" y2="177.70" stroke="#6cae48" stroke-width="1.4" />
<path d="M319.95 176.14 L321.45 178.74 L318.45 178.74 Z" fill="#4e8a2e" stroke="#1d3a10" stroke-width="0.4" stroke-linejoin="round"/>
<text x="330.80" y="179.50" font-size="5.0" textLength="47.20" lengthAdjust="spacingAndGlyphs" fill="#222" >KO -&gt; CD45.1(n=10)</text>
<line x1="219.70" y1="188.80" x2="219.70" y2="252.90" stroke="#1a1a1a" stroke-width="1.2" />
<line x1="219.10" y1="252.30" x2="282.00" y2="252.30" stroke="#1a1a1a" stroke-width="1.2" />
<line x1="216.20" y1="252.30" x2="219.70" y2="252.30" stroke="#1a1a1a" stroke-width="0.9" />
<text x="213.20" y="254.64" font-size="6.5" text-anchor="end" fill="#222" >0</text>
<line x1="216.20" y1="236.85" x2="219.70" y2="236.85" stroke="#1a1a1a" stroke-width="0.9" />
<text x="213.20" y="239.19" font-size="6.5" text-anchor="end" fill="#222" >4</text>
<line x1="216.20" y1="221.40" x2="219.70" y2="221.40" stroke="#1a1a1a" stroke-width="0.9" />
<text x="213.20" y="223.74" font-size="6.5" text-anchor="end" fill="#222" >8</text>
<line x1="216.20" y1="205.95" x2="219.70" y2="205.95" stroke="#1a1a1a" stroke-width="0.9" />
<text x="213.20" y="208.29" font-size="6.5" text-anchor="end" fill="#222" >12</text>
<line x1="216.20" y1="190.50" x2="219.70" y2="190.50" stroke="#1a1a1a" stroke-width="0.9" />
<text x="213.20" y="192.84" font-size="6.5" text-anchor="end" fill="#222" >16</text>
<line x1="227.80" y1="252.30" x2="227.80" y2="255.50" stroke="#1a1a1a" stroke-width="0.9" />
<line x1="245.00" y1="252.30" x2="245.00" y2="255.50" stroke="#1a1a1a" stroke-width="0.9" />
<line x1="261.80" y1="252.30" x2="261.80" y2="255.50" stroke="#1a1a1a" stroke-width="0.9" />
<line x1="278.90" y1="252.30" x2="278.90" y2="255.50" stroke="#1a1a1a" stroke-width="0.9" />
<text x="227.80" y="264.70" font-size="6.8" text-anchor="middle" fill="#222" >1</text>
<text x="245.00" y="264.70" font-size="6.8" text-anchor="middle" fill="#222" >2</text>
<text x="261.80" y="264.70" font-size="6.8" text-anchor="middle" fill="#222" >3</text>
<text x="278.90" y="264.70" font-size="6.8" text-anchor="middle" fill="#222" >4</text>
<line x1="227.80" y1="215.22" x2="227.80" y2="221.40" stroke="#111" stroke-width="0.95" />
<line x1="226.40" y1="215.22" x2="229.20" y2="215.22" stroke="#111" stroke-width="0.95" />
<line x1="226.40" y1="221.40" x2="229.20" y2="221.40" stroke="#111" stroke-width="0.95" />
<line x1="227.80" y1="215.22" x2="227.80" y2="221.40" stroke="#111" stroke-width="0.95" />
<line x1="226.40" y1="215.22" x2="229.20" y2="215.22" stroke="#111" stroke-width="0.95" />
<line x1="226.40" y1="221.40" x2="229.20" y2="221.40" stroke="#111" stroke-width="0.95" />
<line x1="245.00" y1="218.31" x2="245.00" y2="224.49" stroke="#111" stroke-width="0.95" />
<line x1="243.60" y1="218.31" x2="246.40" y2="218.31" stroke="#111" stroke-width="0.95" />
<line x1="243.60" y1="224.49" x2="246.40" y2="224.49" stroke="#111" stroke-width="0.95" />
<line x1="245.00" y1="216.76" x2="245.00" y2="222.94" stroke="#111" stroke-width="0.95" />
<line x1="243.60" y1="216.76" x2="246.40" y2="216.76" stroke="#111" stroke-width="0.95" />
<line x1="243.60" y1="222.94" x2="246.40" y2="222.94" stroke="#111" stroke-width="0.95" />
<line x1="261.80" y1="217.15" x2="261.80" y2="224.88" stroke="#111" stroke-width="0.95" />
<line x1="260.40" y1="217.15" x2="263.20" y2="217.15" stroke="#111" stroke-width="0.95" />
<line x1="260.40" y1="224.88" x2="263.20" y2="224.88" stroke="#111" stroke-width="0.95" />
<line x1="261.80" y1="215.99" x2="261.80" y2="222.17" stroke="#111" stroke-width="0.95" />
<line x1="260.40" y1="215.99" x2="263.20" y2="215.99" stroke="#111" stroke-width="0.95" />
<line x1="260.40" y1="222.17" x2="263.20" y2="222.17" stroke="#111" stroke-width="0.95" />
<line x1="278.90" y1="217.54" x2="278.90" y2="223.72" stroke="#111" stroke-width="0.95" />
<line x1="277.50" y1="217.54" x2="280.30" y2="217.54" stroke="#111" stroke-width="0.95" />
<line x1="277.50" y1="223.72" x2="280.30" y2="223.72" stroke="#111" stroke-width="0.95" />
<line x1="278.90" y1="217.15" x2="278.90" y2="223.33" stroke="#111" stroke-width="0.95" />
<line x1="277.50" y1="217.15" x2="280.30" y2="217.15" stroke="#111" stroke-width="0.95" />
<line x1="277.50" y1="223.33" x2="280.30" y2="223.33" stroke="#111" stroke-width="0.95" />
<polyline points="227.80,218.31 245.00,221.40 261.80,221.01 278.90,220.63" fill="none" stroke="#b8344c" stroke-width="1.15"/>
<polyline points="227.80,218.31 245.00,219.86 261.80,219.08 278.90,220.24" fill="none" stroke="#6cae48" stroke-width="1.15"/>
<circle cx="227.80" cy="218.31" r="1.25" fill="#7a1020" stroke="#300" stroke-width="0.4"/>
<circle cx="245.00" cy="221.40" r="1.25" fill="#7a1020" stroke="#300" stroke-width="0.4"/>
<circle cx="261.80" cy="221.01" r="1.25" fill="#7a1020" stroke="#300" stroke-width="0.4"/>
<circle cx="278.90" cy="220.63" r="1.25" fill="#7a1020" stroke="#300" stroke-width="0.4"/>
<path d="M227.80 216.75 L229.30 219.35 L226.30 219.35 Z" fill="#4e8a2e" stroke="#1d3a10" stroke-width="0.4" stroke-linejoin="round"/>
<path d="M245.00 218.30 L246.50 220.90 L243.50 220.90 Z" fill="#4e8a2e" stroke="#1d3a10" stroke-width="0.4" stroke-linejoin="round"/>
<path d="M261.80 217.52 L263.30 220.12 L260.30 220.12 Z" fill="#4e8a2e" stroke="#1d3a10" stroke-width="0.4" stroke-linejoin="round"/>
<path d="M278.90 218.68 L280.40 221.28 L277.40 221.28 Z" fill="#4e8a2e" stroke="#1d3a10" stroke-width="0.4" stroke-linejoin="round"/>
<line x1="325.00" y1="188.80" x2="325.00" y2="252.90" stroke="#1a1a1a" stroke-width="1.2" />
<line x1="324.40" y1="252.30" x2="393.70" y2="252.30" stroke="#1a1a1a" stroke-width="1.2" />
<line x1="321.50" y1="252.30" x2="325.00" y2="252.30" stroke="#1a1a1a" stroke-width="0.9" />
<text x="318.50" y="254.64" font-size="6.5" text-anchor="end" fill="#222" >0</text>
<line x1="321.50" y1="236.85" x2="325.00" y2="236.85" stroke="#1a1a1a" stroke-width="0.9" />
<text x="318.50" y="239.19" font-size="6.5" text-anchor="end" fill="#222" >4</text>
<line x1="321.50" y1="221.40" x2="325.00" y2="221.40" stroke="#1a1a1a" stroke-width="0.9" />
<text x="318.50" y="223.74" font-size="6.5" text-anchor="end" fill="#222" >8</text>
<line x1="321.50" y1="205.95" x2="325.00" y2="205.95" stroke="#1a1a1a" stroke-width="0.9" />
<text x="318.50" y="208.29" font-size="6.5" text-anchor="end" fill="#222" >12</text>
<line x1="321.50" y1="190.50" x2="325.00" y2="190.50" stroke="#1a1a1a" stroke-width="0.9" />
<text x="318.50" y="192.84" font-size="6.5" text-anchor="end" fill="#222" >16</text>
<line x1="333.40" y1="252.30" x2="333.40" y2="255.50" stroke="#1a1a1a" stroke-width="0.9" />
<line x1="350.70" y1="252.30" x2="350.70" y2="255.50" stroke="#1a1a1a" stroke-width="0.9" />
<line x1="367.60" y1="252.30" x2="367.60" y2="255.50" stroke="#1a1a1a" stroke-width="0.9" />
<line x1="385.20" y1="252.30" x2="385.20" y2="255.50" stroke="#1a1a1a" stroke-width="0.9" />
<text x="333.40" y="264.70" font-size="6.8" text-anchor="middle" fill="#222" >1</text>
<text x="350.70" y="264.70" font-size="6.8" text-anchor="middle" fill="#222" >2</text>
<text x="367.60" y="264.70" font-size="6.8" text-anchor="middle" fill="#222" >3</text>
<text x="385.20" y="264.70" font-size="6.8" text-anchor="middle" fill="#222" >4</text>
<line x1="333.40" y1="222.17" x2="333.40" y2="229.12" stroke="#111" stroke-width="0.95" />
<line x1="332.00" y1="222.17" x2="334.80" y2="222.17" stroke="#111" stroke-width="0.95" />
<line x1="332.00" y1="229.12" x2="334.80" y2="229.12" stroke="#111" stroke-width="0.95" />
<line x1="333.40" y1="214.06" x2="333.40" y2="220.24" stroke="#111" stroke-width="0.95" />
<line x1="332.00" y1="214.06" x2="334.80" y2="214.06" stroke="#111" stroke-width="0.95" />
<line x1="332.00" y1="220.24" x2="334.80" y2="220.24" stroke="#111" stroke-width="0.95" />
<line x1="350.70" y1="222.56" x2="350.70" y2="227.19" stroke="#111" stroke-width="0.95" />
<line x1="349.30" y1="222.56" x2="352.10" y2="222.56" stroke="#111" stroke-width="0.95" />
<line x1="349.30" y1="227.19" x2="352.10" y2="227.19" stroke="#111" stroke-width="0.95" />
<line x1="350.70" y1="212.52" x2="350.70" y2="218.70" stroke="#111" stroke-width="0.95" />
<line x1="349.30" y1="212.52" x2="352.10" y2="212.52" stroke="#111" stroke-width="0.95" />
<line x1="349.30" y1="218.70" x2="352.10" y2="218.70" stroke="#111" stroke-width="0.95" />
<line x1="367.60" y1="221.79" x2="367.60" y2="227.19" stroke="#111" stroke-width="0.95" />
<line x1="366.20" y1="221.79" x2="369.00" y2="221.79" stroke="#111" stroke-width="0.95" />
<line x1="366.20" y1="227.19" x2="369.00" y2="227.19" stroke="#111" stroke-width="0.95" />
<line x1="367.60" y1="212.52" x2="367.60" y2="218.70" stroke="#111" stroke-width="0.95" />
<line x1="366.20" y1="212.52" x2="369.00" y2="212.52" stroke="#111" stroke-width="0.95" />
<line x1="366.20" y1="218.70" x2="369.00" y2="218.70" stroke="#111" stroke-width="0.95" />
<line x1="385.20" y1="222.17" x2="385.20" y2="227.58" stroke="#111" stroke-width="0.95" />
<line x1="383.80" y1="222.17" x2="386.60" y2="222.17" stroke="#111" stroke-width="0.95" />
<line x1="383.80" y1="227.58" x2="386.60" y2="227.58" stroke="#111" stroke-width="0.95" />
<line x1="385.20" y1="210.97" x2="385.20" y2="217.92" stroke="#111" stroke-width="0.95" />
<line x1="383.80" y1="210.97" x2="386.60" y2="210.97" stroke="#111" stroke-width="0.95" />
<line x1="383.80" y1="217.92" x2="386.60" y2="217.92" stroke="#111" stroke-width="0.95" />
<polyline points="333.40,225.65 350.70,224.88 367.60,224.49 385.20,224.88" fill="none" stroke="#b8344c" stroke-width="1.15"/>
<polyline points="333.40,217.15 350.70,215.61 367.60,215.61 385.20,214.45" fill="none" stroke="#6cae48" stroke-width="1.15"/>
<circle cx="333.40" cy="225.65" r="1.25" fill="#7a1020" stroke="#300" stroke-width="0.4"/>
<circle cx="350.70" cy="224.88" r="1.25" fill="#7a1020" stroke="#300" stroke-width="0.4"/>
<circle cx="367.60" cy="224.49" r="1.25" fill="#7a1020" stroke="#300" stroke-width="0.4"/>
<circle cx="385.20" cy="224.88" r="1.25" fill="#7a1020" stroke="#300" stroke-width="0.4"/>
<path d="M333.40 215.59 L334.90 218.19 L331.90 218.19 Z" fill="#4e8a2e" stroke="#1d3a10" stroke-width="0.4" stroke-linejoin="round"/>
<path d="M350.70 214.05 L352.20 216.65 L349.20 216.65 Z" fill="#4e8a2e" stroke="#1d3a10" stroke-width="0.4" stroke-linejoin="round"/>
<path d="M367.60 214.05 L369.10 216.65 L366.10 216.65 Z" fill="#4e8a2e" stroke="#1d3a10" stroke-width="0.4" stroke-linejoin="round"/>
<path d="M385.20 212.89 L386.70 215.49 L383.70 215.49 Z" fill="#4e8a2e" stroke="#1d3a10" stroke-width="0.4" stroke-linejoin="round"/>
<text x="333.40" y="212.90" font-size="6.4" text-anchor="middle" fill="#000" >*</text>
<text x="350.70" y="211.90" font-size="6.4" text-anchor="middle" fill="#000" >*</text>
<text x="367.60" y="211.90" font-size="6.4" text-anchor="middle" fill="#000" >*</text>
<text x="385.20" y="210.90" font-size="6.4" text-anchor="middle" fill="#000" >*</text>
<line x1="437.80" y1="188.80" x2="437.80" y2="252.90" stroke="#1a1a1a" stroke-width="1.2" />
<line x1="437.20" y1="252.30" x2="504.00" y2="252.30" stroke="#1a1a1a" stroke-width="1.2" />
<line x1="434.30" y1="252.30" x2="437.80" y2="252.30" stroke="#1a1a1a" stroke-width="0.9" />
<text x="431.30" y="254.64" font-size="6.5" text-anchor="end" fill="#222" >0</text>
<line x1="434.30" y1="236.85" x2="437.80" y2="236.85" stroke="#1a1a1a" stroke-width="0.9" />
<text x="431.30" y="239.19" font-size="6.5" text-anchor="end" fill="#222" >500</text>
<line x1="434.30" y1="221.40" x2="437.80" y2="221.40" stroke="#1a1a1a" stroke-width="0.9" />
<text x="431.30" y="223.74" font-size="6.5" text-anchor="end" fill="#222" >1000</text>
<line x1="434.30" y1="205.95" x2="437.80" y2="205.95" stroke="#1a1a1a" stroke-width="0.9" />
<text x="431.30" y="208.29" font-size="6.5" text-anchor="end" fill="#222" >1500</text>
<line x1="434.30" y1="190.50" x2="437.80" y2="190.50" stroke="#1a1a1a" stroke-width="0.9" />
<text x="431.30" y="192.84" font-size="6.5" text-anchor="end" fill="#222" >2000</text>
<line x1="445.70" y1="252.30" x2="445.70" y2="255.50" stroke="#1a1a1a" stroke-width="0.9" />
<line x1="462.30" y1="252.30" x2="462.30" y2="255.50" stroke="#1a1a1a" stroke-width="0.9" />
<line x1="478.90" y1="252.30" x2="478.90" y2="255.50" stroke="#1a1a1a" stroke-width="0.9" />
<line x1="495.30" y1="252.30" x2="495.30" y2="255.50" stroke="#1a1a1a" stroke-width="0.9" />
<text x="445.70" y="264.70" font-size="6.8" text-anchor="middle" fill="#222" >1</text>
<text x="462.30" y="264.70" font-size="6.8" text-anchor="middle" fill="#222" >2</text>
<text x="478.90" y="264.70" font-size="6.8" text-anchor="middle" fill="#222" >3</text>
<text x="495.30" y="264.70" font-size="6.8" text-anchor="middle" fill="#222" >4</text>
<line x1="445.70" y1="221.40" x2="445.70" y2="226.34" stroke="#111" stroke-width="0.95" />
<line x1="444.30" y1="221.40" x2="447.10" y2="221.40" stroke="#111" stroke-width="0.95" />
<line x1="444.30" y1="226.34" x2="447.10" y2="226.34" stroke="#111" stroke-width="0.95" />
<line x1="445.70" y1="211.51" x2="445.70" y2="215.84" stroke="#111" stroke-width="0.95" />
<line x1="444.30" y1="211.51" x2="447.10" y2="211.51" stroke="#111" stroke-width="0.95" />
<line x1="444.30" y1="215.84" x2="447.10" y2="215.84" stroke="#111" stroke-width="0.95" />
<line x1="462.30" y1="220.47" x2="462.30" y2="225.42" stroke="#111" stroke-width="0.95" />
<line x1="460.90" y1="220.47" x2="463.70" y2="220.47" stroke="#111" stroke-width="0.95" />
<line x1="460.90" y1="225.42" x2="463.70" y2="225.42" stroke="#111" stroke-width="0.95" />
<line x1="462.30" y1="211.51" x2="462.30" y2="216.46" stroke="#111" stroke-width="0.95" />
<line x1="460.90" y1="211.51" x2="463.70" y2="211.51" stroke="#111" stroke-width="0.95" />
<line x1="460.90" y1="216.46" x2="463.70" y2="216.46" stroke="#111" stroke-width="0.95" />
<line x1="478.90" y1="218.93" x2="478.90" y2="223.87" stroke="#111" stroke-width="0.95" />
<line x1="477.50" y1="218.93" x2="480.30" y2="218.93" stroke="#111" stroke-width="0.95" />
<line x1="477.50" y1="223.87" x2="480.30" y2="223.87" stroke="#111" stroke-width="0.95" />
<line x1="478.90" y1="211.51" x2="478.90" y2="216.46" stroke="#111" stroke-width="0.95" />
<line x1="477.50" y1="211.51" x2="480.30" y2="211.51" stroke="#111" stroke-width="0.95" />
<line x1="477.50" y1="216.46" x2="480.30" y2="216.46" stroke="#111" stroke-width="0.95" />
<line x1="495.30" y1="222.02" x2="495.30" y2="226.34" stroke="#111" stroke-width="0.95" />
<line x1="493.90" y1="222.02" x2="496.70" y2="222.02" stroke="#111" stroke-width="0.95" />
<line x1="493.90" y1="226.34" x2="496.70" y2="226.34" stroke="#111" stroke-width="0.95" />
<line x1="495.30" y1="210.59" x2="495.30" y2="214.91" stroke="#111" stroke-width="0.95" />
<line x1="493.90" y1="210.59" x2="496.70" y2="210.59" stroke="#111" stroke-width="0.95" />
<line x1="493.90" y1="214.91" x2="496.70" y2="214.91" stroke="#111" stroke-width="0.95" />
<polyline points="445.70,223.87 462.30,222.94 478.90,221.40 495.30,224.18" fill="none" stroke="#b8344c" stroke-width="1.15"/>
<polyline points="445.70,213.68 462.30,213.98 478.90,213.98 495.30,212.75" fill="none" stroke="#6cae48" stroke-width="1.15"/>
<circle cx="445.70" cy="223.87" r="1.25" fill="#7a1020" stroke="#300" stroke-width="0.4"/>
<circle cx="462.30" cy="222.94" r="1.25" fill="#7a1020" stroke="#300" stroke-width="0.4"/>
<circle cx="478.90" cy="221.40" r="1.25" fill="#7a1020" stroke="#300" stroke-width="0.4"/>
<circle cx="495.30" cy="224.18" r="1.25" fill="#7a1020" stroke="#300" stroke-width="0.4"/>
<path d="M445.70 212.12 L447.20 214.72 L444.20 214.72 Z" fill="#4e8a2e" stroke="#1d3a10" stroke-width="0.4" stroke-linejoin="round"/>
<path d="M462.30 212.42 L463.80 215.02 L460.80 215.02 Z" fill="#4e8a2e" stroke="#1d3a10" stroke-width="0.4" stroke-linejoin="round"/>
<path d="M478.90 212.42 L480.40 215.02 L477.40 215.02 Z" fill="#4e8a2e" stroke="#1d3a10" stroke-width="0.4" stroke-linejoin="round"/>
<path d="M495.30 211.19 L496.80 213.79 L493.80 213.79 Z" fill="#4e8a2e" stroke="#1d3a10" stroke-width="0.4" stroke-linejoin="round"/>
<text x="445.70" y="211.00" font-size="6.4" text-anchor="middle" fill="#000" >*</text>
<text x="462.30" y="211.00" font-size="6.4" text-anchor="middle" fill="#000" >*</text>
<text x="478.90" y="211.00" font-size="6.4" text-anchor="middle" fill="#000" >*</text>
<text x="495.30" y="211.00" font-size="6.4" text-anchor="middle" fill="#000" >*</text>
<text x="329.10" y="196.10" font-size="5.0" textLength="19.10" lengthAdjust="spacingAndGlyphs" fill="#222" >*p&lt;0.05</text>
<text x="441.50" y="196.70" font-size="5.0" textLength="19.00" lengthAdjust="spacingAndGlyphs" fill="#222" >*p&lt;0.05</text>
<text class="b" x="219.80" y="277.30" font-size="9.1" textLength="65.80" lengthAdjust="spacingAndGlyphs" fill="#111" >Months post BMT</text>
<text class="b" x="324.80" y="277.30" font-size="9.1" textLength="66.40" lengthAdjust="spacingAndGlyphs" fill="#111" >Months post BMT</text>
<text class="b" x="437.90" y="277.30" font-size="9.1" textLength="67.30" lengthAdjust="spacingAndGlyphs" fill="#111" >Months post BMT</text>
<text class="b" transform="translate(199.70,220.10) rotate(-90)" text-anchor="middle" font-size="9.8" textLength="33.0" lengthAdjust="spacingAndGlyphs" fill="#111"><tspan font-size="11.96" dy="0.9">×</tspan><tspan dy="-0.9"> 10</tspan><tspan font-size="6.08" dy="-3.63">6</tspan><tspan dy="3.63">/µL</tspan></text>
<text class="b" transform="translate(305.00,220.10) rotate(-90)" text-anchor="middle" font-size="9.8" textLength="33.0" lengthAdjust="spacingAndGlyphs" fill="#111"><tspan font-size="11.96" dy="0.9">×</tspan><tspan dy="-0.9"> 10</tspan><tspan font-size="6.08" dy="-3.63">3</tspan><tspan dy="3.63">/µL</tspan></text>
<text class="b" transform="translate(409.80,220.10) rotate(-90)" text-anchor="middle" font-size="9.8" textLength="33.0" lengthAdjust="spacingAndGlyphs" fill="#111"><tspan font-size="11.96" dy="0.9">×</tspan><tspan dy="-0.9"> 10</tspan><tspan font-size="6.08" dy="-3.63">3</tspan><tspan dy="3.63">/µL</tspan></text>
<text class="b" x="57.60" y="315.00" font-size="8.5" textLength="48.80" lengthAdjust="spacingAndGlyphs" fill="#111" >Primary BMT</text>
<rect x="43.30" y="322.30" width="13.50" height="3.00" fill="#a33545" />
<rect x="43.30" y="329.40" width="13.50" height="3.00" fill="#78a85a" />
<text x="59.90" y="325.60" font-size="5.0" textLength="54.30" lengthAdjust="spacingAndGlyphs" fill="#222" >Floxed -&gt; CD45.1 (n=5)</text>
<text x="59.90" y="332.70" font-size="5.0" textLength="45.10" lengthAdjust="spacingAndGlyphs" fill="#222" >KO -&gt; CD45.1 (n=5)</text>
<line x1="45.40" y1="337.20" x2="45.40" y2="413.90" stroke="#1a1a1a" stroke-width="1.2" />
<line x1="44.80" y1="413.30" x2="119.70" y2="413.30" stroke="#1a1a1a" stroke-width="1.2" />
<line x1="41.90" y1="413.30" x2="45.40" y2="413.30" stroke="#1a1a1a" stroke-width="0.9" />
<text x="38.90" y="415.64" font-size="6.5" text-anchor="end" fill="#222" >0.0</text>
<line x1="41.90" y1="395.07" x2="45.40" y2="395.07" stroke="#1a1a1a" stroke-width="0.9" />
<text x="38.90" y="397.41" font-size="6.5" text-anchor="end" fill="#222" >0.5</text>
<line x1="41.90" y1="376.85" x2="45.40" y2="376.85" stroke="#1a1a1a" stroke-width="0.9" />
<text x="38.90" y="379.19" font-size="6.5" text-anchor="end" fill="#222" >1.0</text>
<line x1="41.90" y1="358.62" x2="45.40" y2="358.62" stroke="#1a1a1a" stroke-width="0.9" />
<text x="38.90" y="360.96" font-size="6.5" text-anchor="end" fill="#222" >1.5</text>
<line x1="41.90" y1="340.40" x2="45.40" y2="340.40" stroke="#1a1a1a" stroke-width="0.9" />
<text x="38.90" y="342.74" font-size="6.5" text-anchor="end" fill="#222" >2.0</text>
<line x1="57.50" y1="413.30" x2="57.50" y2="416.50" stroke="#1a1a1a" stroke-width="0.9" />
<line x1="82.50" y1="413.30" x2="82.50" y2="416.50" stroke="#1a1a1a" stroke-width="0.9" />
<line x1="107.20" y1="413.30" x2="107.20" y2="416.50" stroke="#1a1a1a" stroke-width="0.9" />
<rect x="51.25" y="395.43" width="5.40" height="17.88" fill="#a33545" stroke="#8c1a2e" stroke-width="0.7"/>
<rect x="58.35" y="360.07" width="5.40" height="53.23" fill="#78a85a" stroke="#64983f" stroke-width="0.7"/>
<line x1="53.95" y1="395.07" x2="53.95" y2="392.89" stroke="#111" stroke-width="0.8" />
<line x1="52.75" y1="392.89" x2="55.15" y2="392.89" stroke="#111" stroke-width="0.8" />
<line x1="61.05" y1="359.72" x2="61.05" y2="358.26" stroke="#111" stroke-width="0.8" />
<line x1="59.85" y1="358.26" x2="62.25" y2="358.26" stroke="#111" stroke-width="0.8" />
<rect x="76.25" y="408.91" width="5.40" height="4.39" fill="#a33545" stroke="#8c1a2e" stroke-width="0.7"/>
<rect x="83.35" y="394.70" width="5.40" height="18.60" fill="#78a85a" stroke="#64983f" stroke-width="0.7"/>
<line x1="78.95" y1="408.56" x2="78.95" y2="407.47" stroke="#111" stroke-width="0.8" />
<line x1="77.75" y1="407.47" x2="80.15" y2="407.47" stroke="#111" stroke-width="0.8" />
<line x1="86.05" y1="394.35" x2="86.05" y2="389.61" stroke="#111" stroke-width="0.8" />
<line x1="84.85" y1="389.61" x2="87.25" y2="389.61" stroke="#111" stroke-width="0.8" />
<rect x="100.95" y="406.36" width="5.40" height="6.94" fill="#a33545" stroke="#8c1a2e" stroke-width="0.7"/>
<rect x="108.05" y="391.78" width="5.40" height="21.52" fill="#78a85a" stroke="#64983f" stroke-width="0.7"/>
<line x1="103.65" y1="406.01" x2="103.65" y2="402.73" stroke="#111" stroke-width="0.8" />
<line x1="102.45" y1="402.73" x2="104.85" y2="402.73" stroke="#111" stroke-width="0.8" />
<line x1="110.75" y1="391.43" x2="110.75" y2="388.88" stroke="#111" stroke-width="0.8" />
<line x1="109.55" y1="388.88" x2="111.95" y2="388.88" stroke="#111" stroke-width="0.8" />
<text x="47.80" y="348.90" font-size="5.4" textLength="19.10" lengthAdjust="spacingAndGlyphs" font-family="'Liberation Serif', serif" fill="#222" >p&lt;0.001</text>
<text x="57.60" y="355.50" font-size="6.6" text-anchor="middle" fill="#222" >***</text>
<line x1="50.80" y1="355.40" x2="64.30" y2="355.40" stroke="#111" stroke-width="0.9" />
<text x="74.00" y="379.80" font-size="5.4" textLength="16.10" lengthAdjust="spacingAndGlyphs" font-family="'Liberation Serif', serif" fill="#222" >p&lt;0.01</text>
<text x="82.70" y="386.90" font-size="6.6" text-anchor="middle" fill="#222" >**</text>
<line x1="75.80" y1="386.40" x2="89.60" y2="386.40" stroke="#111" stroke-width="0.9" />
<text x="98.80" y="379.80" font-size="5.4" textLength="16.20" lengthAdjust="spacingAndGlyphs" font-family="'Liberation Serif', serif" fill="#222" >p&lt;0.01</text>
<text x="107.20" y="386.90" font-size="6.6" text-anchor="middle" fill="#222" >**</text>
<line x1="100.50" y1="386.40" x2="113.90" y2="386.40" stroke="#111" stroke-width="0.9" />
<text x="57.80" y="425.90" font-size="7.0" textLength="10.30" lengthAdjust="spacingAndGlyphs" text-anchor="middle" fill="#222" >LSK</text>
<text x="82.90" y="425.90" font-size="7.0" textLength="10.30" lengthAdjust="spacingAndGlyphs" text-anchor="middle" fill="#222" >LSK</text>
<text x="81.90" y="434.00" font-size="7.0" textLength="15.50" lengthAdjust="spacingAndGlyphs" text-anchor="middle" fill="#222" >CD34<tspan font-size="4.2" dy="-2.6">+</tspan></text>
<text x="107.60" y="425.90" font-size="7.0" textLength="10.30" lengthAdjust="spacingAndGlyphs" text-anchor="middle" fill="#222" >LSK</text>
<text x="106.60" y="434.00" font-size="7.0" textLength="15.50" lengthAdjust="spacingAndGlyphs" text-anchor="middle" fill="#222" >CD34<tspan font-size="4.2" dy="-2.6">-</tspan></text>
<text class="b" transform="translate(24.20,374.60) rotate(-90)" text-anchor="middle" font-size="9.5" textLength="63.6" lengthAdjust="spacingAndGlyphs" fill="#111">%within BM cells</text>
<text class="b" x="312.60" y="315.00" font-size="8.5" textLength="58.40" lengthAdjust="spacingAndGlyphs" fill="#111" >Secondary BMT</text>
<rect x="304.30" y="321.90" width="13.00" height="3.00" fill="#a33545" />
<rect x="304.30" y="328.90" width="13.00" height="3.00" fill="#78a85a" />
<text x="320.40" y="325.20" font-size="5.0" textLength="55.30" lengthAdjust="spacingAndGlyphs" fill="#222" >Floxed -&gt; CD45.1 (n=5)</text>
<text x="320.40" y="332.20" font-size="5.0" textLength="46.10" lengthAdjust="spacingAndGlyphs" fill="#222" >KO -&gt; CD45.1 (n=5)</text>
<line x1="304.00" y1="337.20" x2="304.00" y2="414.00" stroke="#1a1a1a" stroke-width="1.2" />
<line x1="303.40" y1="413.40" x2="379.80" y2="413.40" stroke="#1a1a1a" stroke-width="1.2" />
<line x1="300.50" y1="413.40" x2="304.00" y2="413.40" stroke="#1a1a1a" stroke-width="0.9" />
<text x="297.50" y="415.74" font-size="6.5" text-anchor="end" fill="#222" >0.0</text>
<line x1="300.50" y1="395.05" x2="304.00" y2="395.05" stroke="#1a1a1a" stroke-width="0.9" />
<text x="297.50" y="397.39" font-size="6.5" text-anchor="end" fill="#222" >0.5</text>
<line x1="300.50" y1="376.70" x2="304.00" y2="376.70" stroke="#1a1a1a" stroke-width="0.9" />
<text x="297.50" y="379.04" font-size="6.5" text-anchor="end" fill="#222" >1.0</text>
<line x1="300.50" y1="358.35" x2="304.00" y2="358.35" stroke="#1a1a1a" stroke-width="0.9" />
<text x="297.50" y="360.69" font-size="6.5" text-anchor="end" fill="#222" >1.5</text>
<line x1="300.50" y1="340.00" x2="304.00" y2="340.00" stroke="#1a1a1a" stroke-width="0.9" />
<text x="297.50" y="342.34" font-size="6.5" text-anchor="end" fill="#222" >2.0</text>
<line x1="316.60" y1="413.40" x2="316.60" y2="416.60" stroke="#1a1a1a" stroke-width="0.9" />
<line x1="341.60" y1="413.40" x2="341.60" y2="416.60" stroke="#1a1a1a" stroke-width="0.9" />
<line x1="366.80" y1="413.40" x2="366.80" y2="416.60" stroke="#1a1a1a" stroke-width="0.9" />
<rect x="310.35" y="402.74" width="5.40" height="10.66" fill="#a33545" stroke="#8c1a2e" stroke-width="0.7"/>
<rect x="317.45" y="369.71" width="5.40" height="43.69" fill="#78a85a" stroke="#64983f" stroke-width="0.7"/>
<line x1="313.05" y1="402.39" x2="313.05" y2="400.19" stroke="#111" stroke-width="0.8" />
<line x1="311.85" y1="400.19" x2="314.25" y2="400.19" stroke="#111" stroke-width="0.8" />
<line x1="320.15" y1="369.36" x2="320.15" y2="367.16" stroke="#111" stroke-width="0.8" />
<line x1="318.95" y1="367.16" x2="321.35" y2="367.16" stroke="#111" stroke-width="0.8" />
<rect x="335.35" y="410.08" width="5.40" height="3.32" fill="#a33545" stroke="#8c1a2e" stroke-width="0.7"/>
<rect x="342.45" y="399.07" width="5.40" height="14.33" fill="#78a85a" stroke="#64983f" stroke-width="0.7"/>
<line x1="338.05" y1="409.73" x2="338.05" y2="408.26" stroke="#111" stroke-width="0.8" />
<line x1="336.85" y1="408.26" x2="339.25" y2="408.26" stroke="#111" stroke-width="0.8" />
<line x1="345.15" y1="398.72" x2="345.15" y2="393.58" stroke="#111" stroke-width="0.8" />
<line x1="343.95" y1="393.58" x2="346.35" y2="393.58" stroke="#111" stroke-width="0.8" />
<rect x="360.55" y="406.41" width="5.40" height="6.99" fill="#a33545" stroke="#8c1a2e" stroke-width="0.7"/>
<rect x="367.65" y="380.35" width="5.40" height="33.05" fill="#78a85a" stroke="#64983f" stroke-width="0.7"/>
<line x1="363.25" y1="406.06" x2="363.25" y2="402.76" stroke="#111" stroke-width="0.8" />
<line x1="362.05" y1="402.76" x2="364.45" y2="402.76" stroke="#111" stroke-width="0.8" />
<line x1="370.35" y1="380.00" x2="370.35" y2="377.07" stroke="#111" stroke-width="0.8" />
<line x1="369.15" y1="377.07" x2="371.55" y2="377.07" stroke="#111" stroke-width="0.8" />
<text x="306.80" y="358.10" font-size="5.4" textLength="19.90" lengthAdjust="spacingAndGlyphs" font-family="'Liberation Serif', serif" fill="#222" >p&lt;0.001</text>
<text x="317.00" y="365.40" font-size="6.6" text-anchor="middle" fill="#222" >***</text>
<line x1="310.20" y1="364.30" x2="323.90" y2="364.30" stroke="#111" stroke-width="0.9" />
<text x="333.40" y="384.90" font-size="5.4" textLength="17.30" lengthAdjust="spacingAndGlyphs" font-family="'Liberation Serif', serif" fill="#222" >p&lt;0.05</text>
<text x="342.00" y="391.70" font-size="6.6" text-anchor="middle" fill="#222" >*</text>
<line x1="335.30" y1="391.40" x2="348.70" y2="391.40" stroke="#111" stroke-width="0.9" />
<text x="359.00" y="367.90" font-size="5.4" textLength="16.00" lengthAdjust="spacingAndGlyphs" font-family="'Liberation Serif', serif" fill="#222" >p&lt;0.01</text>
<text x="367.00" y="374.90" font-size="6.6" text-anchor="middle" fill="#222" >**</text>
<line x1="360.20" y1="374.70" x2="373.70" y2="374.70" stroke="#111" stroke-width="0.9" />
<text x="317.30" y="425.90" font-size="7.0" textLength="10.30" lengthAdjust="spacingAndGlyphs" text-anchor="middle" fill="#222" >LSK</text>
<text x="342.70" y="425.90" font-size="7.0" textLength="10.30" lengthAdjust="spacingAndGlyphs" text-anchor="middle" fill="#222" >LSK</text>
<text x="341.70" y="434.00" font-size="7.0" textLength="15.50" lengthAdjust="spacingAndGlyphs" text-anchor="middle" fill="#222" >CD34<tspan font-size="4.2" dy="-2.6">-</tspan></text>
<text x="368.20" y="425.90" font-size="7.0" textLength="10.30" lengthAdjust="spacingAndGlyphs" text-anchor="middle" fill="#222" >LSK</text>
<text x="367.20" y="434.00" font-size="7.0" textLength="15.50" lengthAdjust="spacingAndGlyphs" text-anchor="middle" fill="#222" >CD34<tspan font-size="4.2" dy="-2.6">+</tspan></text>
<text class="b" transform="translate(283.30,374.70) rotate(-90)" text-anchor="middle" font-size="9.5" textLength="63.4" lengthAdjust="spacingAndGlyphs" fill="#111">%within BM cells</text>
<text class="b" x="174.90" y="315.00" font-size="8.5" textLength="47.80" lengthAdjust="spacingAndGlyphs" fill="#111" >Primary BMT</text>
<line x1="213.90" y1="335.70" x2="213.90" y2="413.80" stroke="#1a1a1a" stroke-width="1.2" />
<line x1="213.30" y1="413.20" x2="250.90" y2="413.20" stroke="#1a1a1a" stroke-width="1.2" />
<line x1="210.40" y1="413.20" x2="213.90" y2="413.20" stroke="#1a1a1a" stroke-width="0.9" />
<text x="207.40" y="415.54" font-size="6.5" text-anchor="end" fill="#222" >0.0</text>
<line x1="210.40" y1="398.24" x2="213.90" y2="398.24" stroke="#1a1a1a" stroke-width="0.9" />
<text x="207.40" y="400.58" font-size="6.5" text-anchor="end" fill="#222" >0.2</text>
<line x1="210.40" y1="383.28" x2="213.90" y2="383.28" stroke="#1a1a1a" stroke-width="0.9" />
<text x="207.40" y="385.62" font-size="6.5" text-anchor="end" fill="#222" >0.4</text>
<line x1="210.40" y1="368.32" x2="213.90" y2="368.32" stroke="#1a1a1a" stroke-width="0.9" />
<text x="207.40" y="370.66" font-size="6.5" text-anchor="end" fill="#222" >0.6</text>
<line x1="210.40" y1="353.36" x2="213.90" y2="353.36" stroke="#1a1a1a" stroke-width="0.9" />
<text x="207.40" y="355.70" font-size="6.5" text-anchor="end" fill="#222" >0.8</text>
<line x1="210.40" y1="338.40" x2="213.90" y2="338.40" stroke="#1a1a1a" stroke-width="0.9" />
<text x="207.40" y="340.74" font-size="6.5" text-anchor="end" fill="#222" >1.0</text>
<line x1="226.90" y1="413.20" x2="226.90" y2="416.40" stroke="#1a1a1a" stroke-width="0.9" />
<line x1="238.80" y1="413.20" x2="238.80" y2="416.40" stroke="#1a1a1a" stroke-width="0.9" />
<rect x="222.55" y="382.88" width="8.80" height="30.32" fill="#a33545" stroke="#8c1a2e" stroke-width="0.7"/>
<line x1="226.95" y1="382.53" x2="226.95" y2="381.41" stroke="#111" stroke-width="0.8" />
<line x1="225.65" y1="381.41" x2="228.25" y2="381.41" stroke="#111" stroke-width="0.8" />
<rect x="234.35" y="352.21" width="8.90" height="60.99" fill="#78a85a" stroke="#64983f" stroke-width="0.7"/>
<line x1="238.80" y1="351.86" x2="238.80" y2="350.37" stroke="#111" stroke-width="0.8" />
<line x1="237.50" y1="350.37" x2="240.10" y2="350.37" stroke="#111" stroke-width="0.8" />
<text x="222.80" y="344.40" font-size="5.4" textLength="19.90" lengthAdjust="spacingAndGlyphs" font-family="'Liberation Serif', serif" fill="#222" >p&lt;0.001</text>
<text x="238.80" y="351.20" font-size="6.6" text-anchor="middle" fill="#222" >***</text>
<text class="b" transform="translate(193.50,372.40) rotate(-90)" text-anchor="middle" font-size="9.6" textLength="64.6" lengthAdjust="spacingAndGlyphs" fill="#111">Spleen weight (g)</text>
<text transform="translate(229.00,421.80) rotate(-45)" text-anchor="end" font-size="6.6" textLength="20.0" lengthAdjust="spacingAndGlyphs" fill="#222" x="0" y="2.2">Floxed</text>
<text transform="translate(241.50,422.70) rotate(-45)" text-anchor="end" font-size="6.6" textLength="9.6" lengthAdjust="spacingAndGlyphs" fill="#222" x="0" y="2.2">KO</text>
<text transform="translate(165.80,395.40) rotate(-45)" text-anchor="end" font-size="6.6" textLength="20.0" lengthAdjust="spacingAndGlyphs" fill="#222" x="0" y="2.2">Floxed</text>
<text transform="translate(176.70,396.00) rotate(-45)" text-anchor="end" font-size="6.6" textLength="9.6" lengthAdjust="spacingAndGlyphs" fill="#222" x="0" y="2.2">KO</text>
<text x="225.40" y="449.10" font-size="6.6" textLength="15.20" lengthAdjust="spacingAndGlyphs" fill="#222" >(<tspan font-style="italic">n</tspan>=5)</text>
<rect x="154.30" y="356.80" width="27.90" height="33.50" fill="#cac1dc" />
<line x1="155.40" y1="358.40" x2="164.00" y2="358.40" stroke="#333" stroke-width="1.0" />
<path d="M157.6 369.0 C157.4 366.2 159.8 364.8 161.8 365.0 C163.8 365.2 164.8 366.6 164.5 369.2 C164.2 374.0 164.2 380.0 164.4 384.6 C164.5 387.4 162.6 388.8 160.6 388.6 C158.4 388.4 157.2 386.6 157.2 383.6 C157.3 378.6 157.8 373.6 157.6 369.0 Z" fill="#661a2c" stroke="#86283a" stroke-width="0.6"/>
<path d="M170.4 364.6 C171.2 360.6 173.6 359.0 175.6 359.2 C178.0 359.5 179.4 362.0 179.3 366.0 C179.2 372.0 179.2 378.0 179.0 383.4 C178.9 386.8 177.6 388.6 175.6 388.5 C173.4 388.4 171.6 386.0 170.4 382.4 C169.2 378.0 169.2 372.0 169.6 368.0 C169.8 366.6 170.1 365.5 170.4 364.6 Z" fill="#641a2c" stroke="#86283a" stroke-width="0.6"/><path d="M171.2 375 C171.4 378.5 172.4 381.5 173.6 384" stroke="#d8c8d8" stroke-width="0.7" fill="none" opacity="0.7"/>
<text class="b" x="431.20" y="316.00" font-size="8.5" textLength="58.90" lengthAdjust="spacingAndGlyphs" fill="#111" >Secondary BMT</text>
<line x1="475.30" y1="332.80" x2="475.30" y2="414.30" stroke="#1a1a1a" stroke-width="1.2" />
<line x1="474.70" y1="413.70" x2="511.50" y2="413.70" stroke="#1a1a1a" stroke-width="1.2" />
<line x1="471.80" y1="413.70" x2="475.30" y2="413.70" stroke="#1a1a1a" stroke-width="0.9" />
<text x="468.80" y="416.04" font-size="6.5" text-anchor="end" fill="#222" >0.0</text>
<line x1="471.80" y1="398.08" x2="475.30" y2="398.08" stroke="#1a1a1a" stroke-width="0.9" />
<text x="468.80" y="400.42" font-size="6.5" text-anchor="end" fill="#222" >0.2</text>
<line x1="471.80" y1="382.46" x2="475.30" y2="382.46" stroke="#1a1a1a" stroke-width="0.9" />
<text x="468.80" y="384.80" font-size="6.5" text-anchor="end" fill="#222" >0.4</text>
<line x1="471.80" y1="366.84" x2="475.30" y2="366.84" stroke="#1a1a1a" stroke-width="0.9" />
<text x="468.80" y="369.18" font-size="6.5" text-anchor="end" fill="#222" >0.6</text>
<line x1="471.80" y1="351.22" x2="475.30" y2="351.22" stroke="#1a1a1a" stroke-width="0.9" />
<text x="468.80" y="353.56" font-size="6.5" text-anchor="end" fill="#222" >0.8</text>
<line x1="471.80" y1="335.60" x2="475.30" y2="335.60" stroke="#1a1a1a" stroke-width="0.9" />
<text x="468.80" y="337.94" font-size="6.5" text-anchor="end" fill="#222" >1.0</text>
<line x1="487.90" y1="413.70" x2="487.90" y2="416.90" stroke="#1a1a1a" stroke-width="0.9" />
<line x1="500.00" y1="413.70" x2="500.00" y2="416.90" stroke="#1a1a1a" stroke-width="0.9" />
<rect x="483.55" y="382.81" width="9.00" height="30.89" fill="#a33545" stroke="#8c1a2e" stroke-width="0.7"/>
<line x1="488.05" y1="382.46" x2="488.05" y2="378.56" stroke="#111" stroke-width="0.8" />
<line x1="486.75" y1="378.56" x2="489.35" y2="378.56" stroke="#111" stroke-width="0.8" />
<rect x="495.65" y="358.60" width="9.00" height="55.10" fill="#78a85a" stroke="#64983f" stroke-width="0.7"/>
<line x1="500.15" y1="358.25" x2="500.15" y2="354.34" stroke="#111" stroke-width="0.8" />
<line x1="498.85" y1="354.34" x2="501.45" y2="354.34" stroke="#111" stroke-width="0.8" />
<text x="484.50" y="341.40" font-size="5.4" textLength="19.50" lengthAdjust="spacingAndGlyphs" font-family="'Liberation Serif', serif" fill="#222" >p&lt;0.001</text>
<text x="500.30" y="355.30" font-size="6.6" text-anchor="middle" fill="#222" >***</text>
<text class="b" transform="translate(453.90,371.80) rotate(-90)" text-anchor="middle" font-size="9.6" textLength="65.6" lengthAdjust="spacingAndGlyphs" fill="#111">Spleen weight (g)</text>
<text transform="translate(491.00,421.50) rotate(-45)" text-anchor="end" font-size="6.6" textLength="20.0" lengthAdjust="spacingAndGlyphs" fill="#222" x="0" y="2.2">Floxed</text>
<text transform="translate(503.10,421.50) rotate(-45)" text-anchor="end" font-size="6.6" textLength="9.6" lengthAdjust="spacingAndGlyphs" fill="#222" x="0" y="2.2">KO</text>
<text transform="translate(426.30,394.90) rotate(-45)" text-anchor="end" font-size="6.6" textLength="20.0" lengthAdjust="spacingAndGlyphs" fill="#222" x="0" y="2.2">Floxed</text>
<text transform="translate(438.00,395.40) rotate(-45)" text-anchor="end" font-size="6.6" textLength="9.6" lengthAdjust="spacingAndGlyphs" fill="#222" x="0" y="2.2">KO</text>
<text x="483.10" y="449.00" font-size="6.6" textLength="14.80" lengthAdjust="spacingAndGlyphs" fill="#222" >(<tspan font-style="italic">n</tspan>=5)</text>
<rect x="415.10" y="356.00" width="27.10" height="33.80" fill="#c5b8df" />
<line x1="416.00" y1="358.20" x2="424.30" y2="358.20" stroke="#333" stroke-width="1.0" />
<path d="M417.8 374.0 C418.0 371.6 419.6 370.6 421.0 370.8 C422.8 371.0 423.9 372.2 423.7 374.2 C423.4 377.0 423.2 381.0 423.0 384.0 C422.8 386.4 421.8 387.5 420.4 387.4 C418.8 387.3 417.8 386.0 417.6 383.6 C417.3 380.4 417.6 377.0 417.8 374.0 Z" fill="#6a1c30" stroke="#8a2a3e" stroke-width="0.6"/>
<path d="M432.4 365.0 C432.8 361.4 434.4 359.7 436.0 359.7 C438.0 359.8 439.2 362.0 439.3 365.0 C439.5 369.0 439.9 373.6 439.8 378.0 C439.7 382.0 439.0 386.8 436.6 386.9 C434.0 387.0 433.0 384.6 432.8 381.6 C432.6 376.0 432.0 370.0 432.4 365.0 Z" fill="#6e2440" stroke="#8c3450" stroke-width="0.6"/><path d="M434.4 366 C435.4 370 434.2 374 435.6 378 C436.4 380.5 435.8 383 436.6 385" stroke="#9a5a9a" stroke-width="0.8" fill="none" opacity="0.6"/>
<path d="M23.3 483.0 L27.6 480.3 L30.1 484.2 L29.1 484.9 L32.4 487.5 L31.2 488.2 L35.0 493.4 L28.1 489.9 L29.1 489.1 L25.4 486.7 L26.6 485.9 Z" fill="#111" stroke="none" stroke-width="1" />
<path d="M29.1 497.6 C31.5 496.8 33.6 493.8 36.6 493.3 C38.2 493.1 39.4 494.2 40.0 495.4" fill="none" stroke="#666" stroke-width="0.8" />
<path d="M40.2 495.2 C44.0 495.2 46.2 499.0 46.2 503.0 C46.2 506.8 43.0 509.8 40.2 512.0 C37.4 509.8 34.2 506.8 34.2 503.0 C34.2 499.0 36.4 495.2 40.2 495.2 Z" fill="#fff" stroke="#444" stroke-width="0.6" />
<path d="M34.4 505.4 C34.3 502.4 37.2 500.9 38.9 503.6 C37.4 502.6 35.6 503.2 34.4 505.4 Z" fill="#111" stroke="#111" stroke-width="0.7" />
<path d="M46.0 505.4 C46.1 502.4 43.2 500.9 41.5 503.6 C43.0 502.6 44.8 503.2 46.0 505.4 Z" fill="#111" stroke="#111" stroke-width="0.7" />
<circle cx="38.80" cy="508.20" r="0.50" fill="#222" stroke="none" stroke-width="0.5"/>
<circle cx="41.60" cy="508.20" r="0.50" fill="#222" stroke="none" stroke-width="0.5"/>
<path d="M38.8 510.6 Q40.2 512.2 41.6 510.6" fill="none" stroke="#222" stroke-width="0.8" />
<path d="M35.8 510.2 L38.0 511.0 M44.6 510.2 L42.4 511.0" fill="none" stroke="#bbb" stroke-width="0.5" />
<text x="40.80" y="492.40" font-size="7.2" textLength="72.20" lengthAdjust="spacingAndGlyphs" fill="#111" >6.5 Gy gamma irradiation</text>
<text x="50.00" y="506.00" font-size="7.2" textLength="37.50" lengthAdjust="spacingAndGlyphs" fill="#111" >2 months old</text>
<text x="33.00" y="518.90" font-size="7.2" textLength="13.00" lengthAdjust="spacingAndGlyphs" fill="#111" >days</text>
<line x1="50.50" y1="517.40" x2="161.30" y2="517.40" stroke="#222" stroke-width="1.0" />
<line x1="50.50" y1="515.00" x2="50.50" y2="519.80" stroke="#222" stroke-width="0.9" />
<text x="50.50" y="528.80" font-size="6.9" text-anchor="middle" fill="#222" >d0</text>
<line x1="71.25" y1="515.00" x2="71.25" y2="519.80" stroke="#222" stroke-width="0.9" />
<text x="71.25" y="528.80" font-size="6.9" text-anchor="middle" fill="#222" >d5</text>
<line x1="90.75" y1="515.00" x2="90.75" y2="519.80" stroke="#222" stroke-width="0.9" />
<text x="90.75" y="528.80" font-size="6.9" text-anchor="middle" fill="#222" >d10</text>
<line x1="110.75" y1="515.00" x2="110.75" y2="519.80" stroke="#222" stroke-width="0.9" />
<text x="110.75" y="528.80" font-size="6.9" text-anchor="middle" fill="#222" >d15</text>
<line x1="134.50" y1="515.00" x2="134.50" y2="519.80" stroke="#222" stroke-width="0.9" />
<text x="134.50" y="528.80" font-size="6.9" text-anchor="middle" fill="#222" >d20</text>
<line x1="161.30" y1="515.00" x2="161.30" y2="519.80" stroke="#222" stroke-width="0.9" />
<text x="161.30" y="528.80" font-size="6.9" text-anchor="middle" fill="#222" >d25</text>
<line x1="50.55" y1="541.90" x2="50.55" y2="536.00" stroke="#111" stroke-width="1.0" />
<path d="M48.0 538.5 L50.55 537.2 L53.1 538.5 L50.55 532.2 Z" fill="#111" stroke="none" stroke-width="1" />
<line x1="50.50" y1="547.60" x2="65.80" y2="547.60" stroke="#b8344c" stroke-width="1.4" />
<circle cx="58.15" cy="547.60" r="1.30" fill="#7a1020" stroke="#300" stroke-width="0.4"/>
<text x="68.30" y="549.40" font-size="5.6" textLength="33.70" lengthAdjust="spacingAndGlyphs" font-family="'Liberation Serif', serif" fill="#222" >Floxed (n=10)</text>
<line x1="115.50" y1="547.60" x2="130.00" y2="547.60" stroke="#6cae48" stroke-width="1.4" />
<path d="M122.75 546.04 L124.25 548.64 L121.25 548.64 Z" fill="#4e8a2e" stroke="#1d3a10" stroke-width="0.4" stroke-linejoin="round"/>
<text x="132.50" y="549.40" font-size="5.6" textLength="24.50" lengthAdjust="spacingAndGlyphs" font-family="'Liberation Serif', serif" fill="#222" >KO (n=10)</text>
<line x1="48.80" y1="554.30" x2="48.80" y2="639.60" stroke="#1a1a1a" stroke-width="1.2" />
<line x1="48.20" y1="639.00" x2="162.00" y2="639.00" stroke="#1a1a1a" stroke-width="1.2" />
<line x1="45.30" y1="639.00" x2="48.80" y2="639.00" stroke="#1a1a1a" stroke-width="0.9" />
<text x="42.30" y="641.34" font-size="6.5" text-anchor="end" fill="#222" >0</text>
<line x1="45.30" y1="625.42" x2="48.80" y2="625.42" stroke="#1a1a1a" stroke-width="0.9" />
<text x="42.30" y="627.76" font-size="6.5" text-anchor="end" fill="#222" >20</text>
<line x1="45.30" y1="611.84" x2="48.80" y2="611.84" stroke="#1a1a1a" stroke-width="0.9" />
<text x="42.30" y="614.18" font-size="6.5" text-anchor="end" fill="#222" >40</text>
<line x1="45.30" y1="598.26" x2="48.80" y2="598.26" stroke="#1a1a1a" stroke-width="0.9" />
<text x="42.30" y="600.60" font-size="6.5" text-anchor="end" fill="#222" >60</text>
<line x1="45.30" y1="584.68" x2="48.80" y2="584.68" stroke="#1a1a1a" stroke-width="0.9" />
<text x="42.30" y="587.02" font-size="6.5" text-anchor="end" fill="#222" >80</text>
<line x1="45.30" y1="571.10" x2="48.80" y2="571.10" stroke="#1a1a1a" stroke-width="0.9" />
<text x="42.30" y="573.44" font-size="6.5" text-anchor="end" fill="#222" >100</text>
<line x1="45.30" y1="557.52" x2="48.80" y2="557.52" stroke="#1a1a1a" stroke-width="0.9" />
<text x="42.30" y="559.86" font-size="6.5" text-anchor="end" fill="#222" >120</text>
<line x1="48.80" y1="639.00" x2="48.80" y2="642.20" stroke="#1a1a1a" stroke-width="0.9" />
<line x1="66.90" y1="639.00" x2="66.90" y2="642.20" stroke="#1a1a1a" stroke-width="0.9" />
<line x1="85.00" y1="639.00" x2="85.00" y2="642.20" stroke="#1a1a1a" stroke-width="0.9" />
<line x1="103.10" y1="639.00" x2="103.10" y2="642.20" stroke="#1a1a1a" stroke-width="0.9" />
<line x1="121.20" y1="639.00" x2="121.20" y2="642.20" stroke="#1a1a1a" stroke-width="0.9" />
<line x1="139.30" y1="639.00" x2="139.30" y2="642.20" stroke="#1a1a1a" stroke-width="0.9" />
<line x1="157.40" y1="639.00" x2="157.40" y2="642.20" stroke="#1a1a1a" stroke-width="0.9" />
<text x="48.80" y="651.20" font-size="6.5" text-anchor="middle" fill="#222" >0</text>
<text x="66.90" y="651.20" font-size="6.5" text-anchor="middle" fill="#222" >4</text>
<text x="85.00" y="651.20" font-size="6.5" text-anchor="middle" fill="#222" >8</text>
<text x="103.10" y="651.20" font-size="6.5" text-anchor="middle" fill="#222" >12</text>
<text x="121.20" y="651.20" font-size="6.5" text-anchor="middle" fill="#222" >16</text>
<text x="139.30" y="651.20" font-size="6.5" text-anchor="middle" fill="#222" >20</text>
<text x="157.40" y="651.20" font-size="6.5" text-anchor="middle" fill="#222" >24</text>
<polyline points="53.32,571.10 57.85,571.10 62.38,571.10 66.90,571.10 71.42,571.10 75.95,571.10 80.47,571.10 85.00,571.10 89.53,571.10 94.05,571.10 98.58,571.10 103.10,571.10 107.62,571.10 112.15,571.10 116.67,571.10 121.20,571.10 125.73,571.10 130.25,571.10 134.78,571.10 139.30,571.10 143.82,571.10 148.35,571.10 152.88,571.10 157.40,571.10" fill="none" stroke="#b8344c" stroke-width="1.15"/>
<circle cx="53.32" cy="571.10" r="1.35" fill="#a0203a" stroke="#400" stroke-width="0.45"/>
<circle cx="57.85" cy="571.10" r="1.35" fill="#a0203a" stroke="#400" stroke-width="0.45"/>
<circle cx="62.38" cy="571.10" r="1.35" fill="#a0203a" stroke="#400" stroke-width="0.45"/>
<circle cx="66.90" cy="571.10" r="1.35" fill="#a0203a" stroke="#400" stroke-width="0.45"/>
<circle cx="71.42" cy="571.10" r="1.35" fill="#a0203a" stroke="#400" stroke-width="0.45"/>
<circle cx="75.95" cy="571.10" r="1.35" fill="#a0203a" stroke="#400" stroke-width="0.45"/>
<circle cx="80.47" cy="571.10" r="1.35" fill="#a0203a" stroke="#400" stroke-width="0.45"/>
<circle cx="85.00" cy="571.10" r="1.35" fill="#a0203a" stroke="#400" stroke-width="0.45"/>
<circle cx="89.53" cy="571.10" r="1.35" fill="#a0203a" stroke="#400" stroke-width="0.45"/>
<circle cx="94.05" cy="571.10" r="1.35" fill="#a0203a" stroke="#400" stroke-width="0.45"/>
<circle cx="98.58" cy="571.10" r="1.35" fill="#a0203a" stroke="#400" stroke-width="0.45"/>
<circle cx="103.10" cy="571.10" r="1.35" fill="#a0203a" stroke="#400" stroke-width="0.45"/>
<circle cx="107.62" cy="571.10" r="1.35" fill="#a0203a" stroke="#400" stroke-width="0.45"/>
<circle cx="112.15" cy="571.10" r="1.35" fill="#a0203a" stroke="#400" stroke-width="0.45"/>
<circle cx="116.67" cy="571.10" r="1.35" fill="#a0203a" stroke="#400" stroke-width="0.45"/>
<circle cx="121.20" cy="571.10" r="1.35" fill="#a0203a" stroke="#400" stroke-width="0.45"/>
<circle cx="125.73" cy="571.10" r="1.35" fill="#a0203a" stroke="#400" stroke-width="0.45"/>
<circle cx="130.25" cy="571.10" r="1.35" fill="#a0203a" stroke="#400" stroke-width="0.45"/>
<circle cx="134.78" cy="571.10" r="1.35" fill="#a0203a" stroke="#400" stroke-width="0.45"/>
<circle cx="139.30" cy="571.10" r="1.35" fill="#a0203a" stroke="#400" stroke-width="0.45"/>
<circle cx="143.82" cy="571.10" r="1.35" fill="#a0203a" stroke="#400" stroke-width="0.45"/>
<circle cx="148.35" cy="571.10" r="1.35" fill="#a0203a" stroke="#400" stroke-width="0.45"/>
<circle cx="152.88" cy="571.10" r="1.35" fill="#a0203a" stroke="#400" stroke-width="0.45"/>
<circle cx="157.40" cy="571.10" r="1.35" fill="#a0203a" stroke="#400" stroke-width="0.45"/>
<polyline points="53.32,571.10 57.85,571.10 62.38,571.10 66.90,571.10 71.42,571.10 75.95,571.10 80.47,571.10 85.00,584.68 89.53,584.68 94.05,589.23 98.58,589.23 103.10,591.47 107.62,591.47 112.15,598.26 116.67,602.81 121.20,602.81 125.73,602.81 130.25,602.81 134.78,602.81 139.30,611.84 143.82,622.02 148.35,622.02 152.88,622.02 157.40,622.02" fill="none" stroke="#6cae48" stroke-width="1.15"/>
<path d="M53.32 569.60 L54.77 572.10 L51.87 572.10 Z" fill="#5c9a3a" stroke="#1d3a10" stroke-width="0.4" stroke-linejoin="round"/>
<path d="M57.85 569.60 L59.30 572.10 L56.40 572.10 Z" fill="#5c9a3a" stroke="#1d3a10" stroke-width="0.4" stroke-linejoin="round"/>
<path d="M62.38 569.60 L63.83 572.10 L60.92 572.10 Z" fill="#5c9a3a" stroke="#1d3a10" stroke-width="0.4" stroke-linejoin="round"/>
<path d="M66.90 569.60 L68.35 572.10 L65.45 572.10 Z" fill="#5c9a3a" stroke="#1d3a10" stroke-width="0.4" stroke-linejoin="round"/>
<path d="M71.42 569.60 L72.88 572.10 L69.97 572.10 Z" fill="#5c9a3a" stroke="#1d3a10" stroke-width="0.4" stroke-linejoin="round"/>
<path d="M75.95 569.60 L77.40 572.10 L74.50 572.10 Z" fill="#5c9a3a" stroke="#1d3a10" stroke-width="0.4" stroke-linejoin="round"/>
<path d="M80.47 569.60 L81.92 572.10 L79.02 572.10 Z" fill="#5c9a3a" stroke="#1d3a10" stroke-width="0.4" stroke-linejoin="round"/>
<path d="M85.00 583.18 L86.45 585.68 L83.55 585.68 Z" fill="#5c9a3a" stroke="#1d3a10" stroke-width="0.4" stroke-linejoin="round"/>
<path d="M89.53 583.18 L90.98 585.68 L88.08 585.68 Z" fill="#5c9a3a" stroke="#1d3a10" stroke-width="0.4" stroke-linejoin="round"/>
<path d="M94.05 587.73 L95.50 590.23 L92.60 590.23 Z" fill="#5c9a3a" stroke="#1d3a10" stroke-width="0.4" stroke-linejoin="round"/>
<path d="M98.58 587.73 L100.03 590.23 L97.12 590.23 Z" fill="#5c9a3a" stroke="#1d3a10" stroke-width="0.4" stroke-linejoin="round"/>
<path d="M103.10 589.97 L104.55 592.47 L101.65 592.47 Z" fill="#5c9a3a" stroke="#1d3a10" stroke-width="0.4" stroke-linejoin="round"/>
<path d="M107.62 589.97 L109.08 592.47 L106.17 592.47 Z" fill="#5c9a3a" stroke="#1d3a10" stroke-width="0.4" stroke-linejoin="round"/>
<path d="M112.15 596.76 L113.60 599.26 L110.70 599.26 Z" fill="#5c9a3a" stroke="#1d3a10" stroke-width="0.4" stroke-linejoin="round"/>
<path d="M116.67 601.31 L118.12 603.81 L115.22 603.81 Z" fill="#5c9a3a" stroke="#1d3a10" stroke-width="0.4" stroke-linejoin="round"/>
<path d="M121.20 601.31 L122.65 603.81 L119.75 603.81 Z" fill="#5c9a3a" stroke="#1d3a10" stroke-width="0.4" stroke-linejoin="round"/>
<path d="M125.73 601.31 L127.18 603.81 L124.28 603.81 Z" fill="#5c9a3a" stroke="#1d3a10" stroke-width="0.4" stroke-linejoin="round"/>
<path d="M130.25 601.31 L131.70 603.81 L128.80 603.81 Z" fill="#5c9a3a" stroke="#1d3a10" stroke-width="0.4" stroke-linejoin="round"/>
<path d="M134.78 601.31 L136.22 603.81 L133.33 603.81 Z" fill="#5c9a3a" stroke="#1d3a10" stroke-width="0.4" stroke-linejoin="round"/>
<path d="M139.30 610.34 L140.75 612.84 L137.85 612.84 Z" fill="#5c9a3a" stroke="#1d3a10" stroke-width="0.4" stroke-linejoin="round"/>
<path d="M143.82 620.52 L145.27 623.02 L142.38 623.02 Z" fill="#5c9a3a" stroke="#1d3a10" stroke-width="0.4" stroke-linejoin="round"/>
<path d="M148.35 620.52 L149.80 623.02 L146.90 623.02 Z" fill="#5c9a3a" stroke="#1d3a10" stroke-width="0.4" stroke-linejoin="round"/>
<path d="M152.88 620.52 L154.32 623.02 L151.43 623.02 Z" fill="#5c9a3a" stroke="#1d3a10" stroke-width="0.4" stroke-linejoin="round"/>
<path d="M157.40 620.52 L158.85 623.02 L155.95 623.02 Z" fill="#5c9a3a" stroke="#1d3a10" stroke-width="0.4" stroke-linejoin="round"/>
<text x="109.00" y="584.90" font-size="6.6" text-anchor="middle" fill="#222" >***</text>
<text x="116.50" y="583.20" font-size="5.6" textLength="18.90" lengthAdjust="spacingAndGlyphs" font-family="'Liberation Serif', serif" fill="#222" >p&lt;0.001</text>
<text class="b" x="65.80" y="664.30" font-size="8.6" textLength="78.50" lengthAdjust="spacingAndGlyphs" fill="#111" >Days post irradiation</text>
<text class="b" transform="translate(25.7,596.8) rotate(-90)" text-anchor="middle" font-size="9.2" textLength="53.4" lengthAdjust="spacingAndGlyphs" fill="#111">%survivorship</text>
<text class="b" x="267.50" y="488.20" font-size="9.2" textLength="112.90" lengthAdjust="spacingAndGlyphs" fill="#111" >Mice stressed with irradiation</text>
<text class="b" x="229.80" y="504.80" font-size="9.4" textLength="18.40" lengthAdjust="spacingAndGlyphs" fill="#111" >RBCs</text>
<text class="b" x="306.00" y="504.80" font-size="9.4" textLength="22.00" lengthAdjust="spacingAndGlyphs" fill="#111" >WBCs</text>
<text class="b" x="386.10" y="504.80" font-size="9.4" textLength="32.90" lengthAdjust="spacingAndGlyphs" fill="#111" >Platelets</text>
<line x1="218.80" y1="510.60" x2="218.80" y2="599.70" stroke="#1a1a1a" stroke-width="1.2" />
<line x1="218.20" y1="599.10" x2="259.20" y2="599.10" stroke="#1a1a1a" stroke-width="1.2" />
<line x1="215.30" y1="599.10" x2="218.80" y2="599.10" stroke="#1a1a1a" stroke-width="0.9" />
<text x="212.30" y="601.44" font-size="6.5" text-anchor="end" fill="#222" >0</text>
<line x1="215.30" y1="581.96" x2="218.80" y2="581.96" stroke="#1a1a1a" stroke-width="0.9" />
<text x="212.30" y="584.30" font-size="6.5" text-anchor="end" fill="#222" >2</text>
<line x1="215.30" y1="564.82" x2="218.80" y2="564.82" stroke="#1a1a1a" stroke-width="0.9" />
<text x="212.30" y="567.16" font-size="6.5" text-anchor="end" fill="#222" >4</text>
<line x1="215.30" y1="547.68" x2="218.80" y2="547.68" stroke="#1a1a1a" stroke-width="0.9" />
<text x="212.30" y="550.02" font-size="6.5" text-anchor="end" fill="#222" >6</text>
<line x1="215.30" y1="530.54" x2="218.80" y2="530.54" stroke="#1a1a1a" stroke-width="0.9" />
<text x="212.30" y="532.88" font-size="6.5" text-anchor="end" fill="#222" >8</text>
<line x1="215.30" y1="513.40" x2="218.80" y2="513.40" stroke="#1a1a1a" stroke-width="0.9" />
<text x="212.30" y="515.74" font-size="6.5" text-anchor="end" fill="#222" >10</text>
<line x1="229.10" y1="599.10" x2="229.10" y2="602.30" stroke="#1a1a1a" stroke-width="0.9" />
<line x1="249.00" y1="599.10" x2="249.00" y2="602.30" stroke="#1a1a1a" stroke-width="0.9" />
<circle cx="229.10" cy="552.82" r="2.80" fill="#c8405a" stroke="#111" stroke-width="1.1"/>
<circle cx="229.10" cy="552.82" r="2.80" fill="#c8405a" stroke="#111" stroke-width="1.1"/>
<circle cx="229.10" cy="548.45" r="2.80" fill="#c8405a" stroke="#111" stroke-width="1.1"/>
<circle cx="229.10" cy="548.45" r="2.80" fill="#c8405a" stroke="#111" stroke-width="1.1"/>
<circle cx="229.10" cy="545.97" r="2.80" fill="#c8405a" stroke="#111" stroke-width="1.1"/>
<circle cx="229.10" cy="542.62" r="2.80" fill="#c8405a" stroke="#111" stroke-width="1.1"/>
<circle cx="229.10" cy="542.62" r="2.80" fill="#c8405a" stroke="#111" stroke-width="1.1"/>
<circle cx="229.10" cy="539.11" r="2.80" fill="#c8405a" stroke="#111" stroke-width="1.1"/>
<circle cx="229.10" cy="535.42" r="2.80" fill="#c8405a" stroke="#111" stroke-width="1.1"/>
<circle cx="229.10" cy="535.42" r="2.80" fill="#c8405a" stroke="#111" stroke-width="1.1"/>
<path d="M249.00 576.79 L252.25 582.69 L245.75 582.69 Z" fill="#80c060" stroke="#111" stroke-width="1.1" stroke-linejoin="round"/>
<path d="M249.00 576.79 L252.25 582.69 L245.75 582.69 Z" fill="#80c060" stroke="#111" stroke-width="1.1" stroke-linejoin="round"/>
<path d="M249.00 567.71 L252.25 573.61 L245.75 573.61 Z" fill="#80c060" stroke="#111" stroke-width="1.1" stroke-linejoin="round"/>
<path d="M249.00 567.71 L252.25 573.61 L245.75 573.61 Z" fill="#80c060" stroke="#111" stroke-width="1.1" stroke-linejoin="round"/>
<path d="M249.00 565.57 L252.25 571.47 L245.75 571.47 Z" fill="#80c060" stroke="#111" stroke-width="1.1" stroke-linejoin="round"/>
<path d="M249.00 562.99 L252.25 568.89 L245.75 568.89 Z" fill="#80c060" stroke="#111" stroke-width="1.1" stroke-linejoin="round"/>
<path d="M249.00 561.28 L252.25 567.18 L245.75 567.18 Z" fill="#80c060" stroke="#111" stroke-width="1.1" stroke-linejoin="round"/>
<path d="M249.00 558.71 L252.25 564.61 L245.75 564.61 Z" fill="#80c060" stroke="#111" stroke-width="1.1" stroke-linejoin="round"/>
<path d="M249.00 556.05 L252.25 561.95 L245.75 561.95 Z" fill="#80c060" stroke="#111" stroke-width="1.1" stroke-linejoin="round"/>
<text x="227.60" y="520.70" font-size="5.4" textLength="19.30" lengthAdjust="spacingAndGlyphs" font-family="'Liberation Serif', serif" fill="#222" >p&lt;0.001</text>
<text x="238.60" y="528.70" font-size="6.6" text-anchor="middle" fill="#222" >***</text>
<line x1="225.10" y1="528.60" x2="252.60" y2="528.60" stroke="#111" stroke-width="1.0" />
<text x="228.90" y="611.30" font-size="6.6" textLength="18.60" lengthAdjust="spacingAndGlyphs" text-anchor="middle" fill="#222" >Floxed</text>
<text x="249.00" y="611.30" font-size="6.6" textLength="8.40" lengthAdjust="spacingAndGlyphs" text-anchor="middle" fill="#222" >KO</text>
<text x="239.05" y="622.30" font-size="6.2" textLength="19.40" lengthAdjust="spacingAndGlyphs" text-anchor="middle" fill="#222" >(n=10)</text>
<text class="b" transform="translate(199.00,554.40) rotate(-90)" text-anchor="middle" font-size="9.8" textLength="32.7" lengthAdjust="spacingAndGlyphs" fill="#111"><tspan font-size="11.96" dy="0.9">×</tspan><tspan dy="-0.9"> 10</tspan><tspan font-size="6.08" dy="-3.63">6</tspan><tspan dy="3.63">/µL</tspan></text>
<line x1="296.70" y1="510.60" x2="296.70" y2="599.70" stroke="#1a1a1a" stroke-width="1.2" />
<line x1="296.10" y1="599.10" x2="337.60" y2="599.10" stroke="#1a1a1a" stroke-width="1.2" />
<line x1="293.20" y1="599.10" x2="296.70" y2="599.10" stroke="#1a1a1a" stroke-width="0.9" />
<text x="290.20" y="601.44" font-size="6.5" text-anchor="end" fill="#222" >0</text>
<line x1="293.20" y1="570.53" x2="296.70" y2="570.53" stroke="#1a1a1a" stroke-width="0.9" />
<text x="290.20" y="572.87" font-size="6.5" text-anchor="end" fill="#222" >2</text>
<line x1="293.20" y1="541.97" x2="296.70" y2="541.97" stroke="#1a1a1a" stroke-width="0.9" />
<text x="290.20" y="544.31" font-size="6.5" text-anchor="end" fill="#222" >4</text>
<line x1="293.20" y1="513.40" x2="296.70" y2="513.40" stroke="#1a1a1a" stroke-width="0.9" />
<text x="290.20" y="515.74" font-size="6.5" text-anchor="end" fill="#222" >6</text>
<line x1="306.80" y1="599.10" x2="306.80" y2="602.30" stroke="#1a1a1a" stroke-width="0.9" />
<line x1="327.00" y1="599.10" x2="327.00" y2="602.30" stroke="#1a1a1a" stroke-width="0.9" />
<circle cx="306.80" cy="574.53" r="2.80" fill="#c8405a" stroke="#111" stroke-width="1.1"/>
<circle cx="306.80" cy="574.53" r="2.80" fill="#c8405a" stroke="#111" stroke-width="1.1"/>
<circle cx="306.80" cy="570.10" r="2.80" fill="#c8405a" stroke="#111" stroke-width="1.1"/>
<circle cx="306.80" cy="570.10" r="2.80" fill="#c8405a" stroke="#111" stroke-width="1.1"/>
<circle cx="306.80" cy="563.53" r="2.80" fill="#c8405a" stroke="#111" stroke-width="1.1"/>
<circle cx="306.80" cy="557.54" r="2.80" fill="#c8405a" stroke="#111" stroke-width="1.1"/>
<circle cx="306.80" cy="554.82" r="2.80" fill="#c8405a" stroke="#111" stroke-width="1.1"/>
<circle cx="306.80" cy="549.39" r="2.80" fill="#c8405a" stroke="#111" stroke-width="1.1"/>
<circle cx="306.80" cy="549.39" r="2.80" fill="#c8405a" stroke="#111" stroke-width="1.1"/>
<path d="M327.00 586.56 L330.25 592.46 L323.75 592.46 Z" fill="#80c060" stroke="#111" stroke-width="1.1" stroke-linejoin="round"/>
<path d="M327.00 586.56 L330.25 592.46 L323.75 592.46 Z" fill="#80c060" stroke="#111" stroke-width="1.1" stroke-linejoin="round"/>
<path d="M327.00 584.85 L330.25 590.75 L323.75 590.75 Z" fill="#80c060" stroke="#111" stroke-width="1.1" stroke-linejoin="round"/>
<path d="M327.00 583.42 L330.25 589.32 L323.75 589.32 Z" fill="#80c060" stroke="#111" stroke-width="1.1" stroke-linejoin="round"/>
<path d="M327.00 575.71 L330.25 581.61 L323.75 581.61 Z" fill="#80c060" stroke="#111" stroke-width="1.1" stroke-linejoin="round"/>
<path d="M327.00 574.13 L330.25 580.03 L323.75 580.03 Z" fill="#80c060" stroke="#111" stroke-width="1.1" stroke-linejoin="round"/>
<path d="M327.00 561.14 L330.25 567.04 L323.75 567.04 Z" fill="#80c060" stroke="#111" stroke-width="1.1" stroke-linejoin="round"/>
<text x="306.20" y="535.20" font-size="5.4" textLength="19.70" lengthAdjust="spacingAndGlyphs" font-family="'Liberation Serif', serif" fill="#222" >p&lt;0.001</text>
<text x="316.90" y="543.30" font-size="6.6" text-anchor="middle" fill="#222" >***</text>
<line x1="304.10" y1="542.60" x2="331.50" y2="542.60" stroke="#777" stroke-width="1.3" />
<text x="306.60" y="611.30" font-size="6.6" textLength="18.60" lengthAdjust="spacingAndGlyphs" text-anchor="middle" fill="#222" >Floxed</text>
<text x="327.00" y="611.30" font-size="6.6" textLength="8.40" lengthAdjust="spacingAndGlyphs" text-anchor="middle" fill="#222" >KO</text>
<text x="316.90" y="622.30" font-size="6.2" textLength="19.40" lengthAdjust="spacingAndGlyphs" text-anchor="middle" fill="#222" >(n=10)</text>
<text class="b" transform="translate(280.60,554.40) rotate(-90)" text-anchor="middle" font-size="9.8" textLength="32.7" lengthAdjust="spacingAndGlyphs" fill="#111"><tspan font-size="11.96" dy="0.9">×</tspan><tspan dy="-0.9"> 10</tspan><tspan font-size="6.08" dy="-3.63">3</tspan><tspan dy="3.63">/µL</tspan></text>
<line x1="382.60" y1="510.60" x2="382.60" y2="599.70" stroke="#1a1a1a" stroke-width="1.2" />
<line x1="382.00" y1="599.10" x2="423.60" y2="599.10" stroke="#1a1a1a" stroke-width="1.2" />
<line x1="379.10" y1="599.10" x2="382.60" y2="599.10" stroke="#1a1a1a" stroke-width="0.9" />
<text x="376.10" y="601.44" font-size="6.5" text-anchor="end" fill="#222" >0</text>
<line x1="379.10" y1="577.68" x2="382.60" y2="577.68" stroke="#1a1a1a" stroke-width="0.9" />
<text x="376.10" y="580.02" font-size="6.5" text-anchor="end" fill="#222" >100</text>
<line x1="379.10" y1="556.25" x2="382.60" y2="556.25" stroke="#1a1a1a" stroke-width="0.9" />
<text x="376.10" y="558.59" font-size="6.5" text-anchor="end" fill="#222" >200</text>
<line x1="379.10" y1="534.83" x2="382.60" y2="534.83" stroke="#1a1a1a" stroke-width="0.9" />
<text x="376.10" y="537.17" font-size="6.5" text-anchor="end" fill="#222" >300</text>
<line x1="379.10" y1="513.40" x2="382.60" y2="513.40" stroke="#1a1a1a" stroke-width="0.9" />
<text x="376.10" y="515.74" font-size="6.5" text-anchor="end" fill="#222" >400</text>
<line x1="393.00" y1="599.10" x2="393.00" y2="602.30" stroke="#1a1a1a" stroke-width="0.9" />
<line x1="412.30" y1="599.10" x2="412.30" y2="602.30" stroke="#1a1a1a" stroke-width="0.9" />
<circle cx="393.00" cy="565.68" r="2.80" fill="#c8405a" stroke="#111" stroke-width="1.1"/>
<circle cx="393.00" cy="555.39" r="2.80" fill="#c8405a" stroke="#111" stroke-width="1.1"/>
<circle cx="393.00" cy="550.47" r="2.80" fill="#c8405a" stroke="#111" stroke-width="1.1"/>
<circle cx="393.00" cy="545.11" r="2.80" fill="#c8405a" stroke="#111" stroke-width="1.1"/>
<circle cx="393.00" cy="539.11" r="2.80" fill="#c8405a" stroke="#111" stroke-width="1.1"/>
<circle cx="393.00" cy="535.25" r="2.80" fill="#c8405a" stroke="#111" stroke-width="1.1"/>
<circle cx="393.00" cy="532.90" r="2.80" fill="#c8405a" stroke="#111" stroke-width="1.1"/>
<path d="M412.30 584.42 L415.55 590.32 L409.05 590.32 Z" fill="#80c060" stroke="#111" stroke-width="1.1" stroke-linejoin="round"/>
<path d="M412.30 580.56 L415.55 586.46 L409.05 586.46 Z" fill="#80c060" stroke="#111" stroke-width="1.1" stroke-linejoin="round"/>
<path d="M412.30 576.71 L415.55 582.61 L409.05 582.61 Z" fill="#80c060" stroke="#111" stroke-width="1.1" stroke-linejoin="round"/>
<path d="M412.30 571.56 L415.55 577.46 L409.05 577.46 Z" fill="#80c060" stroke="#111" stroke-width="1.1" stroke-linejoin="round"/>
<path d="M412.30 562.99 L415.55 568.89 L409.05 568.89 Z" fill="#80c060" stroke="#111" stroke-width="1.1" stroke-linejoin="round"/>
<path d="M412.30 549.50 L415.55 555.40 L409.05 555.40 Z" fill="#80c060" stroke="#111" stroke-width="1.1" stroke-linejoin="round"/>
<path d="M412.30 548.00 L415.55 553.90 L409.05 553.90 Z" fill="#80c060" stroke="#111" stroke-width="1.1" stroke-linejoin="round"/>
<text x="392.00" y="519.70" font-size="5.4" textLength="19.70" lengthAdjust="spacingAndGlyphs" font-family="'Liberation Serif', serif" fill="#222" >p&lt;0.001</text>
<text x="402.50" y="527.70" font-size="6.6" text-anchor="middle" fill="#222" >***</text>
<line x1="389.50" y1="527.80" x2="417.30" y2="527.80" stroke="#777" stroke-width="1.3" />
<text x="392.80" y="611.30" font-size="6.6" textLength="18.60" lengthAdjust="spacingAndGlyphs" text-anchor="middle" fill="#222" >Floxed</text>
<text x="412.30" y="611.30" font-size="6.6" textLength="8.40" lengthAdjust="spacingAndGlyphs" text-anchor="middle" fill="#222" >KO</text>
<text x="402.65" y="622.30" font-size="6.2" textLength="19.40" lengthAdjust="spacingAndGlyphs" text-anchor="middle" fill="#222" >(n=10)</text>
<text class="b" transform="translate(358.60,554.40) rotate(-90)" text-anchor="middle" font-size="9.8" textLength="32.7" lengthAdjust="spacingAndGlyphs" fill="#111"><tspan font-size="11.96" dy="0.9">×</tspan><tspan dy="-0.9"> 10</tspan><tspan font-size="6.08" dy="-3.63">3</tspan><tspan dy="3.63">/µL</tspan></text>
</svg>
</body></html>
